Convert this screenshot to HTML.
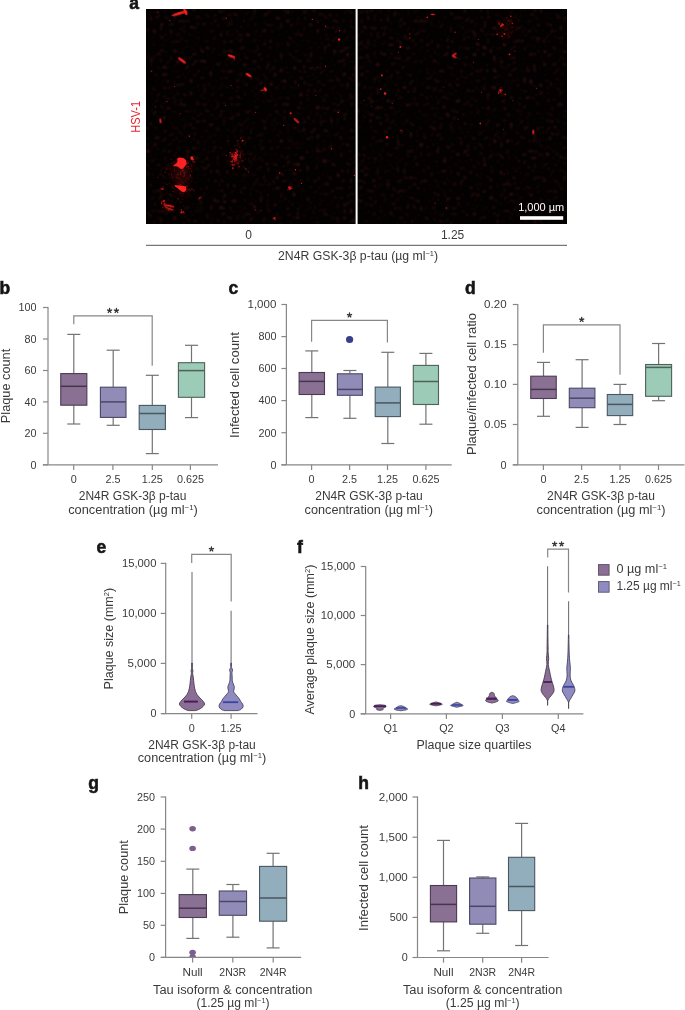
<!DOCTYPE html><html><head><meta charset="utf-8"><title>Figure</title><style>html,body{margin:0;padding:0;background:#fff;width:685px;height:1010px;overflow:hidden}svg{display:block;will-change:transform}text{font-family:"Liberation Sans",sans-serif}</style></head><body><svg width="685" height="1010" viewBox="0 0 685 1010" font-family='"Liberation Sans", sans-serif'>
<rect width="685" height="1010" fill="#ffffff"/>
<defs><filter id="bl0" x="-50%" y="-50%" width="200%" height="200%"><feGaussianBlur stdDeviation="0.6"/></filter><filter id="bl1" x="-50%" y="-50%" width="200%" height="200%"><feGaussianBlur stdDeviation="0.8"/></filter><filter id="bl2" x="-50%" y="-50%" width="200%" height="200%"><feGaussianBlur stdDeviation="1.6"/></filter><filter id="bl3" x="-50%" y="-50%" width="200%" height="200%"><feGaussianBlur stdDeviation="3"/></filter><clipPath id="imgclip"><rect x="146" y="9" width="421" height="215"/></clipPath><clipPath id="gclip"><rect x="150" y="780" width="160" height="177.2"/></clipPath></defs>
<rect x="146" y="9" width="421" height="215" fill="#030101"/>
<filter id="haze" x="146" y="9" width="421" height="215" filterUnits="userSpaceOnUse"><feTurbulence type="fractalNoise" baseFrequency="0.3" numOctaves="2" seed="5"/><feColorMatrix type="matrix" values="0 0 0 0 0.4  0 0 0 0 0.05  0 0 0 0 0.04  5 0 0 0 -3.0"/><feGaussianBlur stdDeviation="0.9"/></filter>
<rect x="146" y="9" width="209.6" height="215" fill="#000" filter="url(#haze)" opacity="0.08"/>
<rect x="357.6" y="9" width="209.4" height="215" fill="#000" filter="url(#haze)" opacity="0.3"/>
<g clip-path="url(#imgclip)">
<ellipse cx="181" cy="172" rx="10" ry="13.0" fill="#b01218" opacity="0.18" filter="url(#bl3)"/>
<ellipse cx="182" cy="188" rx="6" ry="7.8" fill="#b01218" opacity="0.15" filter="url(#bl3)"/>
<ellipse cx="236" cy="158" rx="6" ry="7.8" fill="#b01218" opacity="0.15" filter="url(#bl3)"/>
<ellipse cx="168" cy="206" rx="5" ry="6.5" fill="#b01218" opacity="0.12" filter="url(#bl3)"/>
<ellipse cx="506" cy="28" rx="8" ry="10.4" fill="#b01218" opacity="0.08" filter="url(#bl3)"/>
<rect x="176.6" y="165.0" width="1.6" height="1.6" fill="rgb(249,30,30)" opacity="0.37"/>
<rect x="183.1" y="161.4" width="1.6" height="1.6" fill="rgb(251,30,30)" opacity="0.38"/>
<rect x="179.6" y="161.8" width="1.0" height="1.0" fill="rgb(228,30,30)" opacity="0.33"/>
<rect x="173.3" y="161.5" width="1.3" height="1.3" fill="rgb(240,30,30)" opacity="0.26"/>
<rect x="187.2" y="162.2" width="1.6" height="1.6" fill="rgb(239,30,30)" opacity="0.41"/>
<rect x="186.4" y="164.0" width="1.0" height="1.0" fill="rgb(203,30,30)" opacity="0.26"/>
<rect x="175.9" y="159.4" width="1.0" height="1.0" fill="rgb(220,30,30)" opacity="0.36"/>
<rect x="175.8" y="162.8" width="1.0" height="1.0" fill="rgb(231,30,30)" opacity="0.25"/>
<rect x="178.4" y="164.4" width="1.0" height="1.0" fill="rgb(235,30,30)" opacity="0.50"/>
<rect x="180.6" y="160.1" width="1.0" height="1.0" fill="rgb(214,30,30)" opacity="0.38"/>
<rect x="187.7" y="166.4" width="1.3" height="1.3" fill="rgb(225,30,30)" opacity="0.28"/>
<rect x="173.9" y="170.1" width="1.0" height="1.0" fill="rgb(254,30,30)" opacity="0.42"/>
<rect x="183.7" y="172.0" width="1.6" height="1.6" fill="rgb(230,30,30)" opacity="0.34"/>
<rect x="180.3" y="164.4" width="1.6" height="1.6" fill="rgb(240,30,30)" opacity="0.30"/>
<rect x="181.3" y="165.2" width="1.3" height="1.3" fill="rgb(221,30,30)" opacity="0.25"/>
<rect x="181.6" y="161.5" width="1.0" height="1.0" fill="rgb(215,30,30)" opacity="0.43"/>
<rect x="188.1" y="166.1" width="1.0" height="1.0" fill="rgb(211,30,30)" opacity="0.42"/>
<rect x="179.0" y="164.3" width="1.3" height="1.3" fill="rgb(246,30,30)" opacity="0.44"/>
<rect x="180.3" y="161.9" width="1.0" height="1.0" fill="rgb(226,30,30)" opacity="0.50"/>
<rect x="180.2" y="174.1" width="1.0" height="1.0" fill="rgb(251,30,30)" opacity="0.40"/>
<rect x="182.5" y="167.4" width="1.6" height="1.6" fill="rgb(254,30,30)" opacity="0.40"/>
<rect x="191.2" y="170.6" width="1.0" height="1.0" fill="rgb(213,30,30)" opacity="0.36"/>
<rect x="182.0" y="160.0" width="1.0" height="1.0" fill="rgb(218,30,30)" opacity="0.35"/>
<rect x="186.0" y="166.3" width="1.3" height="1.3" fill="rgb(215,30,30)" opacity="0.25"/>
<rect x="178.5" y="166.7" width="1.6" height="1.6" fill="rgb(237,30,30)" opacity="0.37"/>
<rect x="184.1" y="166.5" width="1.0" height="1.0" fill="rgb(240,30,30)" opacity="0.29"/>
<rect x="182.8" y="160.7" width="1.6" height="1.6" fill="rgb(212,30,30)" opacity="0.29"/>
<rect x="184.0" y="162.5" width="1.6" height="1.6" fill="rgb(224,30,30)" opacity="0.47"/>
<rect x="182.6" y="164.1" width="1.3" height="1.3" fill="rgb(206,30,30)" opacity="0.26"/>
<rect x="182.0" y="169.7" width="1.6" height="1.6" fill="rgb(216,30,30)" opacity="0.36"/>
<rect x="176.7" y="163.8" width="1.0" height="1.0" fill="rgb(246,30,30)" opacity="0.49"/>
<rect x="182.2" y="168.6" width="1.0" height="1.0" fill="rgb(254,30,30)" opacity="0.40"/>
<rect x="179.8" y="172.3" width="1.0" height="1.0" fill="rgb(213,30,30)" opacity="0.44"/>
<rect x="181.0" y="167.8" width="1.3" height="1.3" fill="rgb(203,30,30)" opacity="0.26"/>
<rect x="178.0" y="167.3" width="1.0" height="1.0" fill="rgb(208,30,30)" opacity="0.27"/>
<rect x="190.2" y="156.4" width="1.6" height="1.6" fill="rgb(242,30,30)" opacity="0.43"/>
<rect x="179.6" y="162.4" width="1.3" height="1.3" fill="rgb(202,30,30)" opacity="0.48"/>
<rect x="186.8" y="160.2" width="1.6" height="1.6" fill="rgb(202,30,30)" opacity="0.26"/>
<rect x="182.8" y="164.2" width="1.0" height="1.0" fill="rgb(219,30,30)" opacity="0.33"/>
<rect x="186.0" y="165.8" width="1.6" height="1.6" fill="rgb(247,30,30)" opacity="0.26"/>
<rect x="182.8" y="186.9" width="1.6" height="1.6" fill="rgb(221,30,30)" opacity="0.30"/>
<rect x="181.4" y="188.7" width="1.0" height="1.0" fill="rgb(254,30,30)" opacity="0.32"/>
<rect x="186.4" y="185.5" width="1.3" height="1.3" fill="rgb(239,30,30)" opacity="0.37"/>
<rect x="178.2" y="186.5" width="1.0" height="1.0" fill="rgb(205,30,30)" opacity="0.25"/>
<rect x="191.2" y="188.2" width="1.6" height="1.6" fill="rgb(246,30,30)" opacity="0.30"/>
<rect x="181.5" y="185.4" width="1.0" height="1.0" fill="rgb(229,30,30)" opacity="0.41"/>
<rect x="178.2" y="188.1" width="1.3" height="1.3" fill="rgb(219,30,30)" opacity="0.36"/>
<rect x="193.0" y="189.6" width="1.6" height="1.6" fill="rgb(207,30,30)" opacity="0.34"/>
<rect x="180.5" y="185.6" width="1.0" height="1.0" fill="rgb(200,30,30)" opacity="0.31"/>
<rect x="181.8" y="186.7" width="1.3" height="1.3" fill="rgb(210,30,30)" opacity="0.39"/>
<rect x="180.7" y="185.8" width="1.6" height="1.6" fill="rgb(215,30,30)" opacity="0.30"/>
<rect x="183.0" y="192.8" width="1.0" height="1.0" fill="rgb(251,30,30)" opacity="0.41"/>
<rect x="185.9" y="186.5" width="1.0" height="1.0" fill="rgb(237,30,30)" opacity="0.43"/>
<rect x="186.1" y="191.2" width="1.0" height="1.0" fill="rgb(253,30,30)" opacity="0.43"/>
<rect x="180.6" y="181.4" width="1.0" height="1.0" fill="rgb(217,30,30)" opacity="0.41"/>
<rect x="179.9" y="189.2" width="1.3" height="1.3" fill="rgb(213,30,30)" opacity="0.41"/>
<rect x="179.7" y="186.0" width="1.6" height="1.6" fill="rgb(220,30,30)" opacity="0.39"/>
<rect x="181.5" y="188.8" width="1.6" height="1.6" fill="rgb(202,30,30)" opacity="0.29"/>
<rect x="189.1" y="189.7" width="1.6" height="1.6" fill="rgb(236,30,30)" opacity="0.30"/>
<rect x="183.2" y="187.9" width="1.0" height="1.0" fill="rgb(208,30,30)" opacity="0.32"/>
<rect x="190.4" y="189.4" width="1.0" height="1.0" fill="rgb(215,30,30)" opacity="0.40"/>
<rect x="185.0" y="188.4" width="1.6" height="1.6" fill="rgb(206,30,30)" opacity="0.37"/>
<rect x="180.6" y="186.3" width="1.0" height="1.0" fill="rgb(204,30,30)" opacity="0.38"/>
<rect x="184.4" y="186.4" width="1.3" height="1.3" fill="rgb(245,30,30)" opacity="0.23"/>
<rect x="181.9" y="188.3" width="1.3" height="1.3" fill="rgb(214,30,30)" opacity="0.29"/>
<rect x="161.2" y="169.6" width="1.0" height="1.0" fill="rgb(232,30,30)" opacity="0.24"/>
<rect x="168.9" y="193.4" width="1.6" height="1.6" fill="rgb(214,30,30)" opacity="0.16"/>
<rect x="173.3" y="187.9" width="1.0" height="1.0" fill="rgb(212,30,30)" opacity="0.24"/>
<rect x="172.6" y="190.7" width="1.3" height="1.3" fill="rgb(232,30,30)" opacity="0.27"/>
<rect x="168.7" y="182.6" width="1.6" height="1.6" fill="rgb(213,30,30)" opacity="0.16"/>
<rect x="183.7" y="174.7" width="1.0" height="1.0" fill="rgb(215,30,30)" opacity="0.28"/>
<rect x="189.8" y="175.5" width="1.3" height="1.3" fill="rgb(250,30,30)" opacity="0.29"/>
<rect x="193.3" y="163.2" width="1.0" height="1.0" fill="rgb(222,30,30)" opacity="0.23"/>
<rect x="170.6" y="184.4" width="1.0" height="1.0" fill="rgb(249,30,30)" opacity="0.19"/>
<rect x="183.2" y="205.6" width="1.0" height="1.0" fill="rgb(227,30,30)" opacity="0.27"/>
<rect x="168.1" y="173.6" width="1.6" height="1.6" fill="rgb(208,30,30)" opacity="0.22"/>
<rect x="187.8" y="168.1" width="1.3" height="1.3" fill="rgb(243,30,30)" opacity="0.25"/>
<rect x="169.2" y="167.8" width="1.6" height="1.6" fill="rgb(248,30,30)" opacity="0.18"/>
<rect x="165.9" y="168.5" width="1.6" height="1.6" fill="rgb(235,30,30)" opacity="0.25"/>
<rect x="162.6" y="175.3" width="1.3" height="1.3" fill="rgb(216,30,30)" opacity="0.20"/>
<rect x="195.5" y="170.1" width="1.0" height="1.0" fill="rgb(239,30,30)" opacity="0.18"/>
<rect x="189.6" y="174.6" width="1.3" height="1.3" fill="rgb(236,30,30)" opacity="0.22"/>
<rect x="170.8" y="174.3" width="1.6" height="1.6" fill="rgb(238,30,30)" opacity="0.21"/>
<rect x="189.5" y="174.8" width="1.6" height="1.6" fill="rgb(225,30,30)" opacity="0.23"/>
<rect x="182.6" y="182.3" width="1.6" height="1.6" fill="rgb(210,30,30)" opacity="0.16"/>
<rect x="162.6" y="186.0" width="1.3" height="1.3" fill="rgb(251,30,30)" opacity="0.29"/>
<rect x="180.2" y="194.3" width="1.3" height="1.3" fill="rgb(221,30,30)" opacity="0.22"/>
<rect x="176.2" y="177.0" width="1.3" height="1.3" fill="rgb(226,30,30)" opacity="0.24"/>
<rect x="189.6" y="195.7" width="1.0" height="1.0" fill="rgb(201,30,30)" opacity="0.16"/>
<rect x="181.7" y="199.1" width="1.0" height="1.0" fill="rgb(220,30,30)" opacity="0.26"/>
<rect x="177.3" y="173.5" width="1.6" height="1.6" fill="rgb(246,30,30)" opacity="0.24"/>
<rect x="170.9" y="162.4" width="1.3" height="1.3" fill="rgb(244,30,30)" opacity="0.23"/>
<rect x="191.2" y="180.9" width="1.0" height="1.0" fill="rgb(252,30,30)" opacity="0.23"/>
<rect x="164.5" y="171.4" width="1.6" height="1.6" fill="rgb(234,30,30)" opacity="0.25"/>
<rect x="182.1" y="195.1" width="1.0" height="1.0" fill="rgb(237,30,30)" opacity="0.28"/>
<rect x="189.7" y="168.0" width="1.3" height="1.3" fill="rgb(222,30,30)" opacity="0.29"/>
<rect x="166.6" y="160.2" width="1.0" height="1.0" fill="rgb(212,30,30)" opacity="0.18"/>
<rect x="183.3" y="173.1" width="1.0" height="1.0" fill="rgb(215,30,30)" opacity="0.17"/>
<rect x="179.8" y="184.3" width="1.6" height="1.6" fill="rgb(253,30,30)" opacity="0.29"/>
<rect x="181.0" y="171.0" width="1.0" height="1.0" fill="rgb(225,30,30)" opacity="0.24"/>
<rect x="188.6" y="188.3" width="1.3" height="1.3" fill="rgb(222,30,30)" opacity="0.29"/>
<rect x="187.1" y="189.0" width="1.6" height="1.6" fill="rgb(248,30,30)" opacity="0.20"/>
<rect x="187.2" y="156.1" width="1.0" height="1.0" fill="rgb(230,30,30)" opacity="0.17"/>
<rect x="180.8" y="158.8" width="1.0" height="1.0" fill="rgb(236,30,30)" opacity="0.22"/>
<rect x="182.2" y="186.7" width="1.3" height="1.3" fill="rgb(253,30,30)" opacity="0.17"/>
<rect x="183.2" y="175.2" width="1.6" height="1.6" fill="rgb(203,30,30)" opacity="0.17"/>
<rect x="166.8" y="183.6" width="1.3" height="1.3" fill="rgb(220,30,30)" opacity="0.21"/>
<rect x="171.6" y="176.6" width="1.6" height="1.6" fill="rgb(238,30,30)" opacity="0.21"/>
<rect x="175.3" y="152.3" width="1.3" height="1.3" fill="rgb(211,30,30)" opacity="0.21"/>
<rect x="179.5" y="163.8" width="1.0" height="1.0" fill="rgb(212,30,30)" opacity="0.24"/>
<rect x="178.6" y="177.8" width="1.6" height="1.6" fill="rgb(205,30,30)" opacity="0.27"/>
<rect x="192.4" y="156.4" width="1.0" height="1.0" fill="rgb(225,30,30)" opacity="0.24"/>
<rect x="157.2" y="176.9" width="1.3" height="1.3" fill="rgb(251,30,30)" opacity="0.26"/>
<rect x="191.2" y="165.8" width="1.3" height="1.3" fill="rgb(249,30,30)" opacity="0.17"/>
<rect x="184.8" y="187.3" width="1.3" height="1.3" fill="rgb(234,30,30)" opacity="0.25"/>
<rect x="180.8" y="163.8" width="1.3" height="1.3" fill="rgb(246,30,30)" opacity="0.18"/>
<rect x="178.8" y="184.1" width="1.6" height="1.6" fill="rgb(222,30,30)" opacity="0.30"/>
<rect x="186.1" y="181.4" width="1.0" height="1.0" fill="rgb(242,30,30)" opacity="0.19"/>
<rect x="174.4" y="162.7" width="1.6" height="1.6" fill="rgb(234,30,30)" opacity="0.16"/>
<rect x="191.5" y="178.0" width="1.3" height="1.3" fill="rgb(244,30,30)" opacity="0.17"/>
<rect x="181.7" y="177.6" width="1.0" height="1.0" fill="rgb(239,30,30)" opacity="0.17"/>
<rect x="179.7" y="192.2" width="1.6" height="1.6" fill="rgb(203,30,30)" opacity="0.26"/>
<rect x="177.4" y="182.5" width="1.3" height="1.3" fill="rgb(216,30,30)" opacity="0.19"/>
<rect x="170.9" y="172.8" width="1.0" height="1.0" fill="rgb(233,30,30)" opacity="0.24"/>
<rect x="170.6" y="158.6" width="1.6" height="1.6" fill="rgb(204,30,30)" opacity="0.23"/>
<rect x="180.1" y="173.8" width="1.0" height="1.0" fill="rgb(210,30,30)" opacity="0.21"/>
<rect x="186.2" y="164.2" width="1.3" height="1.3" fill="rgb(238,30,30)" opacity="0.16"/>
<rect x="171.4" y="186.2" width="1.6" height="1.6" fill="rgb(238,30,30)" opacity="0.20"/>
<rect x="177.4" y="197.9" width="1.6" height="1.6" fill="rgb(235,30,30)" opacity="0.29"/>
<rect x="178.6" y="166.5" width="1.6" height="1.6" fill="rgb(200,30,30)" opacity="0.27"/>
<rect x="184.5" y="180.2" width="1.0" height="1.0" fill="rgb(248,30,30)" opacity="0.25"/>
<rect x="190.6" y="164.0" width="1.6" height="1.6" fill="rgb(203,30,30)" opacity="0.24"/>
<rect x="182.9" y="176.1" width="1.3" height="1.3" fill="rgb(214,30,30)" opacity="0.21"/>
<rect x="179.9" y="201.5" width="1.6" height="1.6" fill="rgb(202,30,30)" opacity="0.23"/>
<rect x="183.8" y="173.8" width="1.6" height="1.6" fill="rgb(252,30,30)" opacity="0.19"/>
<rect x="238.1" y="162.6" width="1.0" height="1.0" fill="rgb(229,30,30)" opacity="0.39"/>
<rect x="233.9" y="160.3" width="1.6" height="1.6" fill="rgb(223,30,30)" opacity="0.51"/>
<rect x="231.5" y="161.4" width="1.3" height="1.3" fill="rgb(240,30,30)" opacity="0.55"/>
<rect x="231.7" y="164.2" width="1.3" height="1.3" fill="rgb(252,30,30)" opacity="0.70"/>
<rect x="234.8" y="154.3" width="1.3" height="1.3" fill="rgb(207,30,30)" opacity="0.53"/>
<rect x="235.9" y="151.2" width="1.6" height="1.6" fill="rgb(222,30,30)" opacity="0.45"/>
<rect x="233.5" y="152.1" width="1.3" height="1.3" fill="rgb(237,30,30)" opacity="0.42"/>
<rect x="235.0" y="154.8" width="1.6" height="1.6" fill="rgb(215,30,30)" opacity="0.53"/>
<rect x="240.3" y="152.8" width="1.0" height="1.0" fill="rgb(202,30,30)" opacity="0.57"/>
<rect x="234.6" y="163.2" width="1.0" height="1.0" fill="rgb(239,30,30)" opacity="0.36"/>
<rect x="233.9" y="157.5" width="1.0" height="1.0" fill="rgb(205,30,30)" opacity="0.67"/>
<rect x="231.0" y="155.8" width="1.3" height="1.3" fill="rgb(223,30,30)" opacity="0.52"/>
<rect x="235.7" y="162.4" width="1.0" height="1.0" fill="rgb(247,30,30)" opacity="0.40"/>
<rect x="236.1" y="152.8" width="1.0" height="1.0" fill="rgb(252,30,30)" opacity="0.57"/>
<rect x="230.3" y="160.8" width="1.3" height="1.3" fill="rgb(224,30,30)" opacity="0.63"/>
<rect x="238.3" y="165.8" width="1.6" height="1.6" fill="rgb(238,30,30)" opacity="0.46"/>
<rect x="235.3" y="148.7" width="1.3" height="1.3" fill="rgb(211,30,30)" opacity="0.50"/>
<rect x="232.1" y="155.3" width="1.0" height="1.0" fill="rgb(220,30,30)" opacity="0.38"/>
<rect x="231.5" y="160.7" width="1.3" height="1.3" fill="rgb(252,30,30)" opacity="0.59"/>
<rect x="235.2" y="157.4" width="1.6" height="1.6" fill="rgb(219,30,30)" opacity="0.42"/>
<rect x="231.3" y="153.3" width="1.6" height="1.6" fill="rgb(231,30,30)" opacity="0.60"/>
<rect x="232.1" y="167.1" width="1.6" height="1.6" fill="rgb(214,30,30)" opacity="0.48"/>
<rect x="232.0" y="167.6" width="1.6" height="1.6" fill="rgb(220,30,30)" opacity="0.60"/>
<rect x="229.6" y="152.0" width="1.3" height="1.3" fill="rgb(243,30,30)" opacity="0.67"/>
<rect x="225.8" y="155.1" width="1.3" height="1.3" fill="rgb(229,30,30)" opacity="0.46"/>
<rect x="239.8" y="156.4" width="1.3" height="1.3" fill="rgb(233,30,30)" opacity="0.44"/>
<rect x="235.3" y="157.0" width="1.3" height="1.3" fill="rgb(243,30,30)" opacity="0.49"/>
<rect x="236.4" y="150.1" width="1.6" height="1.6" fill="rgb(223,30,30)" opacity="0.63"/>
<rect x="237.3" y="163.5" width="1.3" height="1.3" fill="rgb(211,30,30)" opacity="0.41"/>
<rect x="236.8" y="155.2" width="1.0" height="1.0" fill="rgb(201,30,30)" opacity="0.43"/>
<rect x="232.4" y="156.0" width="1.3" height="1.3" fill="rgb(201,30,30)" opacity="0.78"/>
<rect x="235.5" y="158.4" width="1.3" height="1.3" fill="rgb(250,30,30)" opacity="0.73"/>
<rect x="235.9" y="159.2" width="1.6" height="1.6" fill="rgb(220,30,30)" opacity="0.52"/>
<rect x="233.7" y="156.0" width="1.0" height="1.0" fill="rgb(252,30,30)" opacity="0.78"/>
<rect x="233.6" y="153.8" width="1.3" height="1.3" fill="rgb(233,30,30)" opacity="0.64"/>
<rect x="233.1" y="158.6" width="1.3" height="1.3" fill="rgb(221,30,30)" opacity="0.79"/>
<rect x="231.7" y="157.4" width="1.0" height="1.0" fill="rgb(204,30,30)" opacity="0.81"/>
<rect x="231.9" y="159.8" width="1.0" height="1.0" fill="rgb(242,30,30)" opacity="0.64"/>
<rect x="234.8" y="152.0" width="1.6" height="1.6" fill="rgb(229,30,30)" opacity="0.93"/>
<rect x="235.2" y="157.4" width="1.3" height="1.3" fill="rgb(200,30,30)" opacity="0.86"/>
<rect x="236.6" y="154.1" width="1.6" height="1.6" fill="rgb(215,30,30)" opacity="0.83"/>
<rect x="233.4" y="158.2" width="1.6" height="1.6" fill="rgb(213,30,30)" opacity="0.66"/>
<rect x="233.1" y="164.1" width="1.6" height="1.6" fill="rgb(203,30,30)" opacity="0.70"/>
<rect x="235.4" y="159.7" width="1.0" height="1.0" fill="rgb(249,30,30)" opacity="0.91"/>
<rect x="234.0" y="156.5" width="1.0" height="1.0" fill="rgb(230,30,30)" opacity="0.91"/>
<rect x="233.7" y="158.7" width="1.0" height="1.0" fill="rgb(222,30,30)" opacity="0.58"/>
<rect x="232.8" y="155.1" width="1.0" height="1.0" fill="rgb(232,30,30)" opacity="0.58"/>
<rect x="235.0" y="155.3" width="1.6" height="1.6" fill="rgb(248,30,30)" opacity="0.92"/>
<rect x="231.7" y="155.5" width="1.3" height="1.3" fill="rgb(230,30,30)" opacity="0.88"/>
<rect x="236.2" y="153.0" width="1.0" height="1.0" fill="rgb(221,30,30)" opacity="0.79"/>
<rect x="233.1" y="157.2" width="1.0" height="1.0" fill="rgb(203,30,30)" opacity="0.58"/>
<rect x="234.4" y="154.4" width="1.3" height="1.3" fill="rgb(233,30,30)" opacity="0.85"/>
<rect x="234.1" y="156.1" width="1.3" height="1.3" fill="rgb(215,30,30)" opacity="0.90"/>
<rect x="235.2" y="155.3" width="1.6" height="1.6" fill="rgb(215,30,30)" opacity="0.81"/>
<rect x="235.0" y="154.9" width="1.3" height="1.3" fill="rgb(249,30,30)" opacity="0.63"/>
<rect x="236.0" y="154.2" width="1.6" height="1.6" fill="rgb(208,30,30)" opacity="0.78"/>
<rect x="233.8" y="160.4" width="1.0" height="1.0" fill="rgb(209,30,30)" opacity="0.75"/>
<rect x="236.4" y="157.0" width="1.0" height="1.0" fill="rgb(254,30,30)" opacity="0.55"/>
<rect x="234.9" y="158.1" width="1.3" height="1.3" fill="rgb(245,30,30)" opacity="0.73"/>
<rect x="233.8" y="155.9" width="1.6" height="1.6" fill="rgb(247,30,30)" opacity="0.75"/>
<rect x="237.1" y="162.0" width="1.6" height="1.6" fill="rgb(226,30,30)" opacity="0.24"/>
<rect x="247.9" y="158.1" width="1.3" height="1.3" fill="rgb(213,30,30)" opacity="0.21"/>
<rect x="237.1" y="151.4" width="1.3" height="1.3" fill="rgb(253,30,30)" opacity="0.39"/>
<rect x="239.3" y="154.2" width="1.6" height="1.6" fill="rgb(219,30,30)" opacity="0.40"/>
<rect x="239.0" y="146.5" width="1.6" height="1.6" fill="rgb(243,30,30)" opacity="0.23"/>
<rect x="235.6" y="156.1" width="1.6" height="1.6" fill="rgb(250,30,30)" opacity="0.37"/>
<rect x="230.6" y="156.0" width="1.0" height="1.0" fill="rgb(245,30,30)" opacity="0.34"/>
<rect x="239.3" y="154.8" width="1.6" height="1.6" fill="rgb(249,30,30)" opacity="0.20"/>
<rect x="241.9" y="160.0" width="1.6" height="1.6" fill="rgb(218,30,30)" opacity="0.33"/>
<rect x="240.0" y="137.1" width="1.6" height="1.6" fill="rgb(248,30,30)" opacity="0.28"/>
<rect x="242.8" y="154.0" width="1.3" height="1.3" fill="rgb(224,30,30)" opacity="0.35"/>
<rect x="238.5" y="156.5" width="1.3" height="1.3" fill="rgb(230,30,30)" opacity="0.34"/>
<rect x="235.4" y="153.9" width="1.0" height="1.0" fill="rgb(206,30,30)" opacity="0.23"/>
<rect x="244.8" y="158.2" width="1.3" height="1.3" fill="rgb(211,30,30)" opacity="0.24"/>
<rect x="245.4" y="153.5" width="1.0" height="1.0" fill="rgb(245,30,30)" opacity="0.22"/>
<rect x="254.5" y="155.6" width="1.0" height="1.0" fill="rgb(227,30,30)" opacity="0.28"/>
<rect x="234.9" y="161.4" width="1.0" height="1.0" fill="rgb(232,30,30)" opacity="0.23"/>
<rect x="241.0" y="140.9" width="1.3" height="1.3" fill="rgb(224,30,30)" opacity="0.30"/>
<rect x="234.2" y="145.2" width="1.0" height="1.0" fill="rgb(239,30,30)" opacity="0.34"/>
<rect x="236.3" y="145.1" width="1.0" height="1.0" fill="rgb(201,30,30)" opacity="0.25"/>
<rect x="165.2" y="208.9" width="1.0" height="1.0" fill="rgb(206,30,30)" opacity="0.39"/>
<rect x="161.8" y="206.8" width="1.6" height="1.6" fill="rgb(252,30,30)" opacity="0.28"/>
<rect x="171.3" y="209.3" width="1.3" height="1.3" fill="rgb(219,30,30)" opacity="0.39"/>
<rect x="164.8" y="205.8" width="1.6" height="1.6" fill="rgb(236,30,30)" opacity="0.43"/>
<rect x="173.5" y="207.0" width="1.0" height="1.0" fill="rgb(212,30,30)" opacity="0.39"/>
<rect x="166.4" y="206.2" width="1.3" height="1.3" fill="rgb(205,30,30)" opacity="0.28"/>
<rect x="163.2" y="205.9" width="1.3" height="1.3" fill="rgb(221,30,30)" opacity="0.27"/>
<rect x="167.3" y="210.3" width="1.0" height="1.0" fill="rgb(228,30,30)" opacity="0.49"/>
<rect x="168.3" y="209.1" width="1.6" height="1.6" fill="rgb(234,30,30)" opacity="0.39"/>
<rect x="169.8" y="206.5" width="1.3" height="1.3" fill="rgb(247,30,30)" opacity="0.50"/>
<rect x="191.5" y="157.6" width="1.6" height="1.6" fill="rgb(252,30,30)" opacity="0.40"/>
<rect x="192.7" y="157.5" width="1.0" height="1.0" fill="rgb(236,30,30)" opacity="0.55"/>
<rect x="192.6" y="159.4" width="1.3" height="1.3" fill="rgb(204,30,30)" opacity="0.58"/>
<rect x="193.5" y="161.2" width="1.6" height="1.6" fill="rgb(242,30,30)" opacity="0.46"/>
<rect x="193.5" y="155.9" width="1.0" height="1.0" fill="rgb(239,30,30)" opacity="0.64"/>
<rect x="192.7" y="159.0" width="1.3" height="1.3" fill="rgb(202,30,30)" opacity="0.46"/>
<rect x="192.9" y="158.8" width="1.3" height="1.3" fill="rgb(221,30,30)" opacity="0.61"/>
<rect x="192.1" y="160.8" width="1.0" height="1.0" fill="rgb(203,30,30)" opacity="0.66"/>
<rect x="162.7" y="200.3" width="1.6" height="1.6" fill="rgb(225,30,30)" opacity="0.78"/>
<rect x="163.7" y="202.6" width="1.6" height="1.6" fill="rgb(239,30,30)" opacity="0.77"/>
<rect x="163.1" y="200.3" width="1.3" height="1.3" fill="rgb(231,30,30)" opacity="0.76"/>
<rect x="164.0" y="200.3" width="1.0" height="1.0" fill="rgb(226,30,30)" opacity="0.73"/>
<rect x="161.0" y="201.1" width="1.6" height="1.6" fill="rgb(233,30,30)" opacity="0.53"/>
<rect x="161.0" y="202.9" width="1.3" height="1.3" fill="rgb(220,30,30)" opacity="0.76"/>
<rect x="180.7" y="209.3" width="1.3" height="1.3" fill="rgb(246,30,30)" opacity="0.55"/>
<rect x="181.0" y="210.5" width="1.0" height="1.0" fill="rgb(237,30,30)" opacity="0.75"/>
<rect x="181.8" y="212.2" width="1.0" height="1.0" fill="rgb(232,30,30)" opacity="0.75"/>
<rect x="180.5" y="211.5" width="1.6" height="1.6" fill="rgb(215,30,30)" opacity="0.62"/>
<rect x="180.4" y="211.8" width="1.6" height="1.6" fill="rgb(204,30,30)" opacity="0.80"/>
<rect x="182.4" y="211.1" width="1.6" height="1.6" fill="rgb(255,30,30)" opacity="0.62"/>
<rect x="161.6" y="187.5" width="1.0" height="1.0" fill="rgb(247,30,30)" opacity="0.50"/>
<rect x="161.8" y="187.9" width="1.6" height="1.6" fill="rgb(250,30,30)" opacity="0.40"/>
<rect x="160.4" y="187.7" width="1.3" height="1.3" fill="rgb(218,30,30)" opacity="0.44"/>
<rect x="162.0" y="188.3" width="1.6" height="1.6" fill="rgb(228,30,30)" opacity="0.66"/>
<rect x="160.6" y="188.8" width="1.3" height="1.3" fill="rgb(237,30,30)" opacity="0.43"/>
<rect x="200.3" y="197.7" width="1.0" height="1.0" fill="rgb(219,30,30)" opacity="0.46"/>
<rect x="200.6" y="196.5" width="1.0" height="1.0" fill="rgb(230,30,30)" opacity="0.66"/>
<rect x="198.1" y="199.1" width="1.3" height="1.3" fill="rgb(203,30,30)" opacity="0.42"/>
<rect x="198.7" y="197.3" width="1.6" height="1.6" fill="rgb(240,30,30)" opacity="0.66"/>
<rect x="289.6" y="189.2" width="1.0" height="1.0" fill="rgb(212,30,30)" opacity="0.88"/>
<rect x="288.4" y="186.5" width="1.3" height="1.3" fill="rgb(252,30,30)" opacity="0.59"/>
<rect x="290.5" y="185.9" width="1.3" height="1.3" fill="rgb(208,30,30)" opacity="0.60"/>
<rect x="288.4" y="187.8" width="1.6" height="1.6" fill="rgb(255,30,30)" opacity="0.59"/>
<rect x="288.7" y="186.4" width="1.6" height="1.6" fill="rgb(246,30,30)" opacity="0.56"/>
<rect x="288.8" y="188.4" width="1.0" height="1.0" fill="rgb(251,30,30)" opacity="0.75"/>
<rect x="288.3" y="186.9" width="1.0" height="1.0" fill="rgb(219,30,30)" opacity="0.85"/>
<rect x="288.6" y="186.5" width="1.3" height="1.3" fill="rgb(240,30,30)" opacity="0.75"/>
<rect x="290.5" y="187.3" width="1.0" height="1.0" fill="rgb(233,30,30)" opacity="0.48"/>
<rect x="290.8" y="187.5" width="1.6" height="1.6" fill="rgb(234,30,30)" opacity="0.56"/>
<rect x="290.0" y="188.0" width="1.0" height="1.0" fill="rgb(248,30,30)" opacity="0.54"/>
<rect x="288.8" y="189.0" width="1.0" height="1.0" fill="rgb(211,30,30)" opacity="0.81"/>
<rect x="289.4" y="187.4" width="1.6" height="1.6" fill="rgb(229,30,30)" opacity="0.86"/>
<rect x="286.9" y="189.4" width="1.0" height="1.0" fill="rgb(231,30,30)" opacity="0.48"/>
<rect x="272.5" y="218.0" width="1.3" height="1.3" fill="rgb(223,30,30)" opacity="0.59"/>
<rect x="273.8" y="217.3" width="1.6" height="1.6" fill="rgb(232,30,30)" opacity="0.82"/>
<rect x="273.2" y="217.4" width="1.0" height="1.0" fill="rgb(234,30,30)" opacity="0.53"/>
<rect x="274.3" y="219.0" width="1.3" height="1.3" fill="rgb(242,30,30)" opacity="0.65"/>
<rect x="273.9" y="216.8" width="1.6" height="1.6" fill="rgb(215,30,30)" opacity="0.57"/>
<rect x="501.4" y="25.3" width="1.0" height="1.0" fill="rgb(231,30,30)" opacity="0.47"/>
<rect x="498.9" y="22.2" width="1.0" height="1.0" fill="rgb(236,30,30)" opacity="0.54"/>
<rect x="500.0" y="25.2" width="1.3" height="1.3" fill="rgb(238,30,30)" opacity="0.56"/>
<rect x="498.4" y="23.4" width="1.0" height="1.0" fill="rgb(254,30,30)" opacity="0.67"/>
<rect x="501.8" y="24.1" width="1.6" height="1.6" fill="rgb(240,30,30)" opacity="0.58"/>
<rect x="501.1" y="24.3" width="1.6" height="1.6" fill="rgb(219,30,30)" opacity="0.53"/>
<rect x="500.1" y="25.3" width="1.6" height="1.6" fill="rgb(233,30,30)" opacity="0.67"/>
<rect x="498.7" y="23.5" width="1.3" height="1.3" fill="rgb(232,30,30)" opacity="0.44"/>
<rect x="501.0" y="25.1" width="1.3" height="1.3" fill="rgb(242,30,30)" opacity="0.69"/>
<rect x="502.5" y="24.0" width="1.6" height="1.6" fill="rgb(223,30,30)" opacity="0.64"/>
<rect x="501.5" y="23.4" width="1.6" height="1.6" fill="rgb(231,30,30)" opacity="0.66"/>
<rect x="501.9" y="23.4" width="1.0" height="1.0" fill="rgb(229,30,30)" opacity="0.57"/>
<rect x="512.1" y="30.2" width="1.3" height="1.3" fill="rgb(233,30,30)" opacity="0.13"/>
<rect x="501.7" y="26.5" width="1.6" height="1.6" fill="rgb(204,30,30)" opacity="0.22"/>
<rect x="515.5" y="29.6" width="1.3" height="1.3" fill="rgb(246,30,30)" opacity="0.18"/>
<rect x="506.9" y="41.4" width="1.0" height="1.0" fill="rgb(215,30,30)" opacity="0.16"/>
<rect x="511.3" y="26.5" width="1.6" height="1.6" fill="rgb(221,30,30)" opacity="0.21"/>
<rect x="507.6" y="35.2" width="1.0" height="1.0" fill="rgb(237,30,30)" opacity="0.18"/>
<rect x="506.5" y="18.4" width="1.0" height="1.0" fill="rgb(255,30,30)" opacity="0.21"/>
<rect x="502.1" y="32.1" width="1.3" height="1.3" fill="rgb(253,30,30)" opacity="0.13"/>
<rect x="507.7" y="23.9" width="1.6" height="1.6" fill="rgb(222,30,30)" opacity="0.14"/>
<rect x="508.9" y="20.3" width="1.3" height="1.3" fill="rgb(225,30,30)" opacity="0.13"/>
<rect x="507.3" y="19.8" width="1.6" height="1.6" fill="rgb(231,30,30)" opacity="0.22"/>
<rect x="509.4" y="39.5" width="1.0" height="1.0" fill="rgb(234,30,30)" opacity="0.15"/>
<rect x="510.8" y="32.1" width="1.6" height="1.6" fill="rgb(217,30,30)" opacity="0.18"/>
<rect x="508.6" y="36.4" width="1.6" height="1.6" fill="rgb(225,30,30)" opacity="0.17"/>
<rect x="506.1" y="23.1" width="1.6" height="1.6" fill="rgb(223,30,30)" opacity="0.12"/>
<rect x="511.4" y="26.7" width="1.0" height="1.0" fill="rgb(249,30,30)" opacity="0.14"/>
<rect x="511.4" y="31.0" width="1.3" height="1.3" fill="rgb(224,30,30)" opacity="0.16"/>
<rect x="503.1" y="43.8" width="1.3" height="1.3" fill="rgb(233,30,30)" opacity="0.18"/>
<rect x="504.1" y="34.1" width="1.6" height="1.6" fill="rgb(202,30,30)" opacity="0.13"/>
<rect x="506.0" y="28.7" width="1.3" height="1.3" fill="rgb(219,30,30)" opacity="0.16"/>
<rect x="504.4" y="28.7" width="1.3" height="1.3" fill="rgb(245,30,30)" opacity="0.17"/>
<rect x="505.9" y="16.8" width="1.3" height="1.3" fill="rgb(209,30,30)" opacity="0.21"/>
<rect x="501.7" y="27.9" width="1.3" height="1.3" fill="rgb(208,30,30)" opacity="0.15"/>
<rect x="507.6" y="37.4" width="1.0" height="1.0" fill="rgb(222,30,30)" opacity="0.18"/>
<rect x="508.1" y="30.5" width="1.0" height="1.0" fill="rgb(240,30,30)" opacity="0.16"/>
<rect x="500.4" y="87.3" width="1.0" height="1.0" fill="rgb(219,30,30)" opacity="0.75"/>
<rect x="499.9" y="89.9" width="1.0" height="1.0" fill="rgb(244,30,30)" opacity="0.61"/>
<rect x="501.5" y="89.6" width="1.3" height="1.3" fill="rgb(215,30,30)" opacity="0.80"/>
<rect x="500.3" y="91.0" width="1.3" height="1.3" fill="rgb(225,30,30)" opacity="0.67"/>
<rect x="498.4" y="91.0" width="1.0" height="1.0" fill="rgb(231,30,30)" opacity="0.77"/>
<rect x="499.9" y="91.3" width="1.3" height="1.3" fill="rgb(230,30,30)" opacity="0.80"/>
<rect x="498.7" y="89.5" width="1.3" height="1.3" fill="rgb(205,30,30)" opacity="0.78"/>
<rect x="499.7" y="89.0" width="1.6" height="1.6" fill="rgb(216,30,30)" opacity="0.77"/>
<rect x="498.2" y="92.8" width="1.0" height="1.0" fill="rgb(225,30,30)" opacity="0.50"/>
<rect x="500.0" y="89.8" width="1.6" height="1.6" fill="rgb(224,30,30)" opacity="0.67"/>
<rect x="498.6" y="92.1" width="1.0" height="1.0" fill="rgb(216,30,30)" opacity="0.48"/>
<rect x="497.8" y="92.4" width="1.6" height="1.6" fill="rgb(236,30,30)" opacity="0.58"/>
<ellipse cx="179.25" cy="13.45" rx="8.02" ry="1.36" transform="rotate(-16.1 179.25 13.45)" fill="#ff2424" opacity="0.95" filter="url(#bl0)"/>
<ellipse cx="185.50" cy="11.75" rx="3.59" ry="1.55" transform="rotate(66.0 185.50 11.75)" fill="#ff2424" opacity="0.95" filter="url(#bl0)"/>
<ellipse cx="182.15" cy="60.40" rx="4.86" ry="1.24" transform="rotate(37.3 182.15 60.40)" fill="#ff2424" opacity="0.95" filter="url(#bl0)"/>
<ellipse cx="231.35" cy="56.25" rx="3.81" ry="1.36" transform="rotate(19.7 231.35 56.25)" fill="#ff2424" opacity="0.95" filter="url(#bl0)"/>
<ellipse cx="234.25" cy="58.75" rx="1.81" ry="0.74" transform="rotate(78.7 234.25 58.75)" fill="#ff2424" opacity="0.5" filter="url(#bl0)"/>
<ellipse cx="248.50" cy="75.05" rx="3.26" ry="1.24" transform="rotate(32.0 248.50 75.05)" fill="#ff2424" opacity="0.95" filter="url(#bl0)"/>
<ellipse cx="160.55" cy="120.90" rx="2.64" ry="0.99" transform="rotate(82.5 160.55 120.90)" fill="#ff2424" opacity="0.9" filter="url(#bl0)"/>
<ellipse cx="265.20" cy="89.25" rx="2.29" ry="1.49" transform="rotate(60.3 265.20 89.25)" fill="#ff2424" opacity="0.95" filter="url(#bl0)"/>
<ellipse cx="262.25" cy="90.15" rx="1.80" ry="0.74" transform="rotate(-6.8 262.25 90.15)" fill="#ff2424" opacity="0.6" filter="url(#bl0)"/>
<ellipse cx="296.50" cy="120.70" rx="3.57" ry="1.12" transform="rotate(43.5 296.50 120.70)" fill="#ff2424" opacity="0.8" filter="url(#bl0)"/>
<ellipse cx="454.25" cy="54.40" rx="2.84" ry="0.99" transform="rotate(-34.4 454.25 54.40)" fill="#ff2424" opacity="0.85" filter="url(#bl0)"/>
<ellipse cx="454.25" cy="56.75" rx="2.67" ry="0.99" transform="rotate(25.9 454.25 56.75)" fill="#ff2424" opacity="0.85" filter="url(#bl0)"/>
<ellipse cx="533.30" cy="132.00" rx="2.48" ry="0.93" transform="rotate(90.0 533.30 132.00)" fill="#ff2424" opacity="0.9" filter="url(#bl0)"/>
<ellipse cx="432.75" cy="14.60" rx="2.29" ry="0.74" transform="rotate(0.0 432.75 14.60)" fill="#ff2424" opacity="0.8" filter="url(#bl0)"/>
<ellipse cx="168.80" cy="205.65" rx="5.50" ry="0.87" transform="rotate(10.0 168.80 205.65)" fill="#ff2424" opacity="0.9" filter="url(#bl0)"/>
<ellipse cx="169.25" cy="208.70" rx="4.70" ry="0.74" transform="rotate(18.2 169.25 208.70)" fill="#ff2424" opacity="0.8" filter="url(#bl0)"/>
<path d="M177.1,158.8 L178.9,157.5 L183.3,158 L185.9,160.1 L186.8,163.6 L185,166.3 L183.3,168 L181.1,169.3 L178.9,167.1 L176.3,166.3 L173.6,166.3 L173.2,165.4 L176.3,163.6 L177.6,161 Z" fill="#ff2323" filter="url(#bl0)"/>
<path d="M174.5,185.1 L178.9,185.5 L183.3,186 L185.9,186.4 L186.3,189.9 L185,191.7 L182.4,192.1 L179.8,189.9 L177.1,187.7 L175,186.4 Z" fill="#ff2323" filter="url(#bl0)"/>
<path d="M191,156.5 L193,156.8 L193.3,159.5 L191.5,160 L190.5,158.5 Z" fill="#ff2323" filter="url(#bl0)"/>
<circle cx="158" cy="12.2" r="0.7" fill="#ff2020" opacity="0.5"/>
<circle cx="169.8" cy="20.6" r="0.7" fill="#ff2020" opacity="0.7"/>
<circle cx="226.3" cy="18.3" r="0.7" fill="#ff2020" opacity="0.7"/>
<circle cx="151.6" cy="71.3" r="0.6" fill="#ff2020" opacity="0.6"/>
<circle cx="312.3" cy="19.4" r="0.7" fill="#ff2020" opacity="0.8"/>
<circle cx="325.5" cy="26.3" r="0.7" fill="#ff2020" opacity="0.7"/>
<circle cx="339.6" cy="30.7" r="0.7" fill="#ff2020" opacity="0.7"/>
<circle cx="339.1" cy="39.5" r="1.2" fill="#ff2020" opacity="0.95"/>
<circle cx="347.2" cy="54.4" r="0.6" fill="#ff2020" opacity="0.5"/>
<circle cx="317.1" cy="67.3" r="0.6" fill="#ff2020" opacity="0.6"/>
<circle cx="325.5" cy="66.3" r="0.7" fill="#ff2020" opacity="0.7"/>
<circle cx="166.9" cy="101.5" r="0.7" fill="#ff2020" opacity="0.6"/>
<circle cx="174.6" cy="86.6" r="0.7" fill="#ff2020" opacity="0.6"/>
<circle cx="155.3" cy="106.8" r="0.6" fill="#ff2020" opacity="0.6"/>
<circle cx="180.5" cy="113.5" r="0.6" fill="#ff2020" opacity="0.5"/>
<circle cx="189.4" cy="136.3" r="0.7" fill="#ff2020" opacity="0.7"/>
<circle cx="231.1" cy="85.4" r="0.6" fill="#ff2020" opacity="0.6"/>
<circle cx="225.5" cy="105.5" r="0.6" fill="#ff2020" opacity="0.6"/>
<circle cx="242.8" cy="140.5" r="0.8" fill="#ff2020" opacity="0.8"/>
<circle cx="237.5" cy="140.5" r="0.6" fill="#ff2020" opacity="0.6"/>
<circle cx="228" cy="140.8" r="0.6" fill="#ff2020" opacity="0.6"/>
<circle cx="290.6" cy="113.2" r="1.0" fill="#ff2020" opacity="0.9"/>
<circle cx="283.7" cy="125.3" r="0.7" fill="#ff2020" opacity="0.7"/>
<circle cx="338.3" cy="112.4" r="0.7" fill="#ff2020" opacity="0.8"/>
<circle cx="298.5" cy="85" r="0.6" fill="#ff2020" opacity="0.6"/>
<circle cx="315.9" cy="95.6" r="0.6" fill="#ff2020" opacity="0.6"/>
<circle cx="255.6" cy="112.4" r="0.6" fill="#ff2020" opacity="0.6"/>
<circle cx="331.4" cy="149" r="0.7" fill="#ff2020" opacity="0.7"/>
<circle cx="354.4" cy="175.5" r="0.7" fill="#ff2020" opacity="0.8"/>
<circle cx="279.7" cy="173" r="0.7" fill="#ff2020" opacity="0.7"/>
<circle cx="295.5" cy="169.7" r="0.7" fill="#ff2020" opacity="0.7"/>
<circle cx="248.4" cy="171.8" r="0.6" fill="#ff2020" opacity="0.6"/>
<circle cx="295.6" cy="169.7" r="0.7" fill="#ff2020" opacity="0.7"/>
<circle cx="279.5" cy="172.9" r="0.6" fill="#ff2020" opacity="0.6"/>
<circle cx="301.5" cy="183.4" r="0.7" fill="#ff2020" opacity="0.7"/>
<circle cx="261" cy="210.7" r="0.6" fill="#ff2020" opacity="0.5"/>
<circle cx="255.4" cy="209.9" r="0.6" fill="#ff2020" opacity="0.5"/>
<circle cx="242.6" cy="140.8" r="0.8" fill="#ff2020" opacity="0.8"/>
<circle cx="245.8" cy="169" r="0.7" fill="#ff2020" opacity="0.6"/>
<circle cx="184" cy="213" r="0.7" fill="#ff2020" opacity="0.7"/>
<circle cx="427.2" cy="17.4" r="0.8" fill="#ff2020" opacity="0.8"/>
<circle cx="400.4" cy="47.1" r="1.0" fill="#ff2020" opacity="0.9"/>
<circle cx="409.7" cy="33.9" r="0.7" fill="#ff2020" opacity="0.7"/>
<circle cx="410" cy="37.9" r="0.7" fill="#ff2020" opacity="0.7"/>
<circle cx="398.4" cy="52.4" r="0.6" fill="#ff2020" opacity="0.6"/>
<circle cx="455" cy="32.3" r="0.7" fill="#ff2020" opacity="0.7"/>
<circle cx="381.9" cy="75.2" r="0.9" fill="#ff2020" opacity="0.8"/>
<circle cx="510.8" cy="16.2" r="0.8" fill="#ff2020" opacity="0.8"/>
<circle cx="512.4" cy="23.5" r="0.8" fill="#ff2020" opacity="0.7"/>
<circle cx="504.4" cy="33.9" r="0.9" fill="#ff2020" opacity="0.8"/>
<circle cx="497.1" cy="34.4" r="0.8" fill="#ff2020" opacity="0.8"/>
<circle cx="502" cy="36.3" r="0.8" fill="#ff2020" opacity="0.7"/>
<circle cx="509.5" cy="54.3" r="0.9" fill="#ff2020" opacity="0.9"/>
<circle cx="514.8" cy="51.1" r="0.6" fill="#ff2020" opacity="0.6"/>
<circle cx="478.4" cy="39.5" r="0.6" fill="#ff2020" opacity="0.6"/>
<circle cx="473.5" cy="62.3" r="0.6" fill="#ff2020" opacity="0.6"/>
<circle cx="385.1" cy="93.5" r="1.2" fill="#ff2020" opacity="0.95"/>
<circle cx="380.8" cy="89.1" r="0.9" fill="#ff2020" opacity="0.8"/>
<circle cx="387" cy="137.3" r="1.2" fill="#ff2020" opacity="0.95"/>
<circle cx="381.9" cy="75.8" r="0.8" fill="#ff2020" opacity="0.7"/>
<circle cx="392.3" cy="103.6" r="0.6" fill="#ff2020" opacity="0.6"/>
<circle cx="364.2" cy="100.4" r="0.6" fill="#ff2020" opacity="0.4"/>
<circle cx="371.5" cy="106.3" r="0.6" fill="#ff2020" opacity="0.4"/>
<circle cx="457.9" cy="119.2" r="0.6" fill="#ff2020" opacity="0.5"/>
<circle cx="443.4" cy="87" r="0.6" fill="#ff2020" opacity="0.5"/>
<circle cx="401.2" cy="130.4" r="0.6" fill="#ff2020" opacity="0.6"/>
<circle cx="505.2" cy="94.3" r="0.8" fill="#ff2020" opacity="0.8"/>
<circle cx="512.9" cy="100.7" r="0.6" fill="#ff2020" opacity="0.5"/>
<circle cx="481.4" cy="92.3" r="0.6" fill="#ff2020" opacity="0.6"/>
<circle cx="480.3" cy="123.5" r="0.9" fill="#ff2020" opacity="0.8"/>
<circle cx="503.6" cy="129.3" r="0.6" fill="#ff2020" opacity="0.5"/>
<circle cx="536.5" cy="88.3" r="0.6" fill="#ff2020" opacity="0.6"/>
<circle cx="435.1" cy="203.1" r="0.6" fill="#ff2020" opacity="0.7"/>
<circle cx="446.4" cy="208" r="0.7" fill="#ff2020" opacity="0.7"/>
<circle cx="504.2" cy="174.2" r="0.6" fill="#ff2020" opacity="0.4"/>
</g>
<rect x="355.6" y="9" width="2" height="215" fill="#ffffff"/>
<rect x="520" y="216.2" width="43.2" height="3.6" fill="#ffffff"/>
<text x="541.20" y="211.00" font-size="11" text-anchor="middle" fill="#ffffff" font-weight="normal">1,000 µm</text>
<text transform="translate(140.30,116.80) rotate(-90)" x="0" y="0" font-size="12.4" text-anchor="middle" fill="#e8232d" textLength="32" lengthAdjust="spacingAndGlyphs">HSV-1</text>
<text x="248.50" y="239.20" font-size="12" text-anchor="middle" fill="#3a3a3a" font-weight="normal">0</text>
<text x="452.60" y="239.20" font-size="12" text-anchor="middle" fill="#3a3a3a" font-weight="normal">1.25</text>
<line x1="146.00" y1="245.40" x2="567.00" y2="245.40" stroke="#777" stroke-width="1.1"/>
<text x="358.00" y="260.20" font-size="12" text-anchor="middle" fill="#3a3a3a" font-weight="normal" textLength="160" lengthAdjust="spacingAndGlyphs">2N4R GSK-3β p-tau (µg ml<tspan baseline-shift="4.4" font-size="7.3">−1</tspan>)</text>
<text x="129.30" y="8.80" font-size="17.5" text-anchor="start" fill="#151515" font-weight="bold" stroke="#151515" stroke-width="0.55">a</text>
<text x="-0.40" y="293.80" font-size="17.5" text-anchor="start" fill="#151515" font-weight="bold" stroke="#151515" stroke-width="0.55">b</text>
<line x1="48.00" y1="306.90" x2="48.00" y2="464.80" stroke="#878787" stroke-width="1.2"/>
<line x1="43.00" y1="307.50" x2="48.00" y2="307.50" stroke="#878787" stroke-width="1.2"/>
<text x="36.50" y="311.30" font-size="10.8" text-anchor="end" fill="#3a3a3a" font-weight="normal">100</text>
<line x1="43.00" y1="339.00" x2="48.00" y2="339.00" stroke="#878787" stroke-width="1.2"/>
<text x="36.50" y="342.80" font-size="10.8" text-anchor="end" fill="#3a3a3a" font-weight="normal">80</text>
<line x1="43.00" y1="370.50" x2="48.00" y2="370.50" stroke="#878787" stroke-width="1.2"/>
<text x="36.50" y="374.30" font-size="10.8" text-anchor="end" fill="#3a3a3a" font-weight="normal">60</text>
<line x1="43.00" y1="401.90" x2="48.00" y2="401.90" stroke="#878787" stroke-width="1.2"/>
<text x="36.50" y="405.70" font-size="10.8" text-anchor="end" fill="#3a3a3a" font-weight="normal">40</text>
<line x1="43.00" y1="433.30" x2="48.00" y2="433.30" stroke="#878787" stroke-width="1.2"/>
<text x="36.50" y="437.10" font-size="10.8" text-anchor="end" fill="#3a3a3a" font-weight="normal">20</text>
<line x1="43.00" y1="464.80" x2="48.00" y2="464.80" stroke="#878787" stroke-width="1.2"/>
<text x="36.50" y="468.60" font-size="10.8" text-anchor="end" fill="#3a3a3a" font-weight="normal">0</text>
<line x1="42.80" y1="464.80" x2="218.00" y2="464.80" stroke="#878787" stroke-width="1.2"/>
<line x1="73.70" y1="464.80" x2="73.70" y2="470.00" stroke="#878787" stroke-width="1.2"/>
<text x="73.70" y="483.00" font-size="10.8" text-anchor="middle" fill="#3a3a3a" font-weight="normal">0</text>
<line x1="112.90" y1="464.80" x2="112.90" y2="470.00" stroke="#878787" stroke-width="1.2"/>
<text x="112.90" y="483.00" font-size="10.8" text-anchor="middle" fill="#3a3a3a" font-weight="normal">2.5</text>
<line x1="152.30" y1="464.80" x2="152.30" y2="470.00" stroke="#878787" stroke-width="1.2"/>
<text x="152.30" y="483.00" font-size="10.8" text-anchor="middle" fill="#3a3a3a" font-weight="normal">1.25</text>
<line x1="190.40" y1="464.80" x2="190.40" y2="470.00" stroke="#878787" stroke-width="1.2"/>
<text x="190.40" y="483.00" font-size="10.8" text-anchor="middle" fill="#3a3a3a" font-weight="normal">0.625</text>
<line x1="73.80" y1="334.40" x2="73.80" y2="373.60" stroke="#737373" stroke-width="1.2"/>
<line x1="73.80" y1="405.20" x2="73.80" y2="424.00" stroke="#737373" stroke-width="1.2"/>
<line x1="67.30" y1="334.40" x2="80.30" y2="334.40" stroke="#737373" stroke-width="1.2"/>
<line x1="67.30" y1="424.00" x2="80.30" y2="424.00" stroke="#737373" stroke-width="1.2"/>
<rect x="60.75" y="373.60" width="26.10" height="31.60" fill="#8a7193" stroke="#4b3a52" stroke-width="1.1"/>
<line x1="60.75" y1="386.30" x2="86.85" y2="386.30" stroke="#45354d" stroke-width="1.5"/>
<line x1="113.20" y1="350.20" x2="113.20" y2="387.20" stroke="#737373" stroke-width="1.2"/>
<line x1="113.20" y1="417.40" x2="113.20" y2="425.30" stroke="#737373" stroke-width="1.2"/>
<line x1="106.70" y1="350.20" x2="119.70" y2="350.20" stroke="#737373" stroke-width="1.2"/>
<line x1="106.70" y1="425.30" x2="119.70" y2="425.30" stroke="#737373" stroke-width="1.2"/>
<rect x="100.40" y="387.20" width="25.60" height="30.20" fill="#908cb7" stroke="#4a4766" stroke-width="1.1"/>
<line x1="100.40" y1="401.90" x2="126.00" y2="401.90" stroke="#4a4766" stroke-width="1.5"/>
<line x1="152.30" y1="375.30" x2="152.30" y2="405.40" stroke="#737373" stroke-width="1.2"/>
<line x1="152.30" y1="429.50" x2="152.30" y2="453.60" stroke="#737373" stroke-width="1.2"/>
<line x1="145.80" y1="375.30" x2="158.80" y2="375.30" stroke="#737373" stroke-width="1.2"/>
<line x1="145.80" y1="453.60" x2="158.80" y2="453.60" stroke="#737373" stroke-width="1.2"/>
<rect x="139.20" y="405.40" width="26.20" height="24.10" fill="#92adbb" stroke="#4a5660" stroke-width="1.1"/>
<line x1="139.20" y1="413.50" x2="165.40" y2="413.50" stroke="#4a5660" stroke-width="1.5"/>
<line x1="191.50" y1="345.30" x2="191.50" y2="362.70" stroke="#737373" stroke-width="1.2"/>
<line x1="191.50" y1="397.30" x2="191.50" y2="417.60" stroke="#737373" stroke-width="1.2"/>
<line x1="185.00" y1="345.30" x2="198.00" y2="345.30" stroke="#737373" stroke-width="1.2"/>
<line x1="185.00" y1="417.60" x2="198.00" y2="417.60" stroke="#737373" stroke-width="1.2"/>
<rect x="178.40" y="362.70" width="26.20" height="34.60" fill="#9ccbb7" stroke="#4f6159" stroke-width="1.1"/>
<line x1="178.40" y1="370.60" x2="204.60" y2="370.60" stroke="#4f6159" stroke-width="1.5"/>
<path d="M73.80,324.30 V315.80 H152.20 V365.70" fill="none" stroke="#878787" stroke-width="1.2"/>
<path d="M109.55,310.70 L109.55,308.50 M109.55,310.70 L111.64,310.02 M109.55,310.70 L110.84,312.48 M109.55,310.70 L108.26,312.48 M109.55,310.70 L107.46,310.02" stroke="#333333" stroke-width="1.3" stroke-linecap="round" fill="none"/>
<path d="M116.45,310.70 L116.45,308.50 M116.45,310.70 L118.54,310.02 M116.45,310.70 L117.74,312.48 M116.45,310.70 L115.16,312.48 M116.45,310.70 L114.36,310.02" stroke="#333333" stroke-width="1.3" stroke-linecap="round" fill="none"/>
<text transform="translate(9.80,386.00) rotate(-90)" x="0" y="0" font-size="12" text-anchor="middle" fill="#3a3a3a" textLength="74.4" lengthAdjust="spacingAndGlyphs">Plaque count</text>
<text x="132.60" y="500.40" font-size="12" text-anchor="middle" fill="#3a3a3a" font-weight="normal" textLength="107.7" lengthAdjust="spacingAndGlyphs">2N4R GSK-3β p-tau</text>
<text x="133.00" y="513.90" font-size="12" text-anchor="middle" fill="#3a3a3a" font-weight="normal" textLength="129.6" lengthAdjust="spacingAndGlyphs">concentration (µg ml<tspan baseline-shift="4.4" font-size="7.3">−1</tspan>)</text>
<text x="228.60" y="293.50" font-size="17.5" text-anchor="start" fill="#151515" font-weight="bold" stroke="#151515" stroke-width="0.55">c</text>
<line x1="286.40" y1="303.90" x2="286.40" y2="464.80" stroke="#878787" stroke-width="1.2"/>
<line x1="281.40" y1="304.50" x2="286.40" y2="304.50" stroke="#878787" stroke-width="1.2"/>
<text x="276.40" y="308.30" font-size="10.8" text-anchor="end" fill="#3a3a3a" font-weight="normal" textLength="28.93" lengthAdjust="spacingAndGlyphs">1,000</text>
<line x1="281.40" y1="336.60" x2="286.40" y2="336.60" stroke="#878787" stroke-width="1.2"/>
<text x="276.40" y="340.40" font-size="10.8" text-anchor="end" fill="#3a3a3a" font-weight="normal">800</text>
<line x1="281.40" y1="368.50" x2="286.40" y2="368.50" stroke="#878787" stroke-width="1.2"/>
<text x="276.40" y="372.30" font-size="10.8" text-anchor="end" fill="#3a3a3a" font-weight="normal">600</text>
<line x1="281.40" y1="400.60" x2="286.40" y2="400.60" stroke="#878787" stroke-width="1.2"/>
<text x="276.40" y="404.40" font-size="10.8" text-anchor="end" fill="#3a3a3a" font-weight="normal">400</text>
<line x1="281.40" y1="432.70" x2="286.40" y2="432.70" stroke="#878787" stroke-width="1.2"/>
<text x="276.40" y="436.50" font-size="10.8" text-anchor="end" fill="#3a3a3a" font-weight="normal">200</text>
<line x1="281.40" y1="464.80" x2="286.40" y2="464.80" stroke="#878787" stroke-width="1.2"/>
<text x="276.40" y="468.60" font-size="10.8" text-anchor="end" fill="#3a3a3a" font-weight="normal">0</text>
<line x1="281.40" y1="464.80" x2="451.70" y2="464.80" stroke="#878787" stroke-width="1.2"/>
<line x1="311.60" y1="464.80" x2="311.60" y2="470.00" stroke="#878787" stroke-width="1.2"/>
<text x="311.60" y="483.00" font-size="10.8" text-anchor="middle" fill="#3a3a3a" font-weight="normal">0</text>
<line x1="349.60" y1="464.80" x2="349.60" y2="470.00" stroke="#878787" stroke-width="1.2"/>
<text x="349.60" y="483.00" font-size="10.8" text-anchor="middle" fill="#3a3a3a" font-weight="normal">2.5</text>
<line x1="387.50" y1="464.80" x2="387.50" y2="470.00" stroke="#878787" stroke-width="1.2"/>
<text x="387.50" y="483.00" font-size="10.8" text-anchor="middle" fill="#3a3a3a" font-weight="normal">1.25</text>
<line x1="425.90" y1="464.80" x2="425.90" y2="470.00" stroke="#878787" stroke-width="1.2"/>
<text x="425.90" y="483.00" font-size="10.8" text-anchor="middle" fill="#3a3a3a" font-weight="normal">0.625</text>
<line x1="311.80" y1="350.90" x2="311.80" y2="372.50" stroke="#737373" stroke-width="1.2"/>
<line x1="311.80" y1="394.50" x2="311.80" y2="417.60" stroke="#737373" stroke-width="1.2"/>
<line x1="305.30" y1="350.90" x2="318.30" y2="350.90" stroke="#737373" stroke-width="1.2"/>
<line x1="305.30" y1="417.60" x2="318.30" y2="417.60" stroke="#737373" stroke-width="1.2"/>
<rect x="299.10" y="372.50" width="25.40" height="22.00" fill="#8a7193" stroke="#4b3a52" stroke-width="1.1"/>
<line x1="299.10" y1="381.40" x2="324.50" y2="381.40" stroke="#45354d" stroke-width="1.5"/>
<line x1="349.90" y1="370.50" x2="349.90" y2="373.80" stroke="#737373" stroke-width="1.2"/>
<line x1="349.90" y1="395.30" x2="349.90" y2="418.30" stroke="#737373" stroke-width="1.2"/>
<line x1="343.40" y1="370.50" x2="356.40" y2="370.50" stroke="#737373" stroke-width="1.2"/>
<line x1="343.40" y1="418.30" x2="356.40" y2="418.30" stroke="#737373" stroke-width="1.2"/>
<rect x="337.40" y="373.80" width="25.00" height="21.50" fill="#908cb7" stroke="#4a4766" stroke-width="1.1"/>
<line x1="337.40" y1="389.40" x2="362.40" y2="389.40" stroke="#4a4766" stroke-width="1.5"/>
<line x1="387.80" y1="352.30" x2="387.80" y2="387.10" stroke="#737373" stroke-width="1.2"/>
<line x1="387.80" y1="416.60" x2="387.80" y2="443.50" stroke="#737373" stroke-width="1.2"/>
<line x1="381.30" y1="352.30" x2="394.30" y2="352.30" stroke="#737373" stroke-width="1.2"/>
<line x1="381.30" y1="443.50" x2="394.30" y2="443.50" stroke="#737373" stroke-width="1.2"/>
<rect x="375.20" y="387.10" width="25.20" height="29.50" fill="#92adbb" stroke="#4a5660" stroke-width="1.1"/>
<line x1="375.20" y1="402.90" x2="400.40" y2="402.90" stroke="#4a5660" stroke-width="1.5"/>
<line x1="425.90" y1="353.40" x2="425.90" y2="365.40" stroke="#737373" stroke-width="1.2"/>
<line x1="425.90" y1="404.50" x2="425.90" y2="424.20" stroke="#737373" stroke-width="1.2"/>
<line x1="419.40" y1="353.40" x2="432.40" y2="353.40" stroke="#737373" stroke-width="1.2"/>
<line x1="419.40" y1="424.20" x2="432.40" y2="424.20" stroke="#737373" stroke-width="1.2"/>
<rect x="413.30" y="365.40" width="25.20" height="39.10" fill="#9ccbb7" stroke="#4f6159" stroke-width="1.1"/>
<line x1="413.30" y1="381.50" x2="438.50" y2="381.50" stroke="#4f6159" stroke-width="1.5"/>
<circle cx="349.6" cy="339.5" r="3.6" fill="#3a3d8c"/>
<path d="M311.60,341.70 V320.30 H387.40 V342.60" fill="none" stroke="#878787" stroke-width="1.2"/>
<path d="M349.50,315.20 L349.50,313.00 M349.50,315.20 L351.59,314.52 M349.50,315.20 L350.79,316.98 M349.50,315.20 L348.21,316.98 M349.50,315.20 L347.41,314.52" stroke="#333333" stroke-width="1.3" stroke-linecap="round" fill="none"/>
<text transform="translate(239.10,385.00) rotate(-90)" x="0" y="0" font-size="12" text-anchor="middle" fill="#3a3a3a" textLength="106" lengthAdjust="spacingAndGlyphs">Infected cell count</text>
<text x="369.00" y="500.40" font-size="12" text-anchor="middle" fill="#3a3a3a" font-weight="normal" textLength="107.5" lengthAdjust="spacingAndGlyphs">2N4R GSK-3β p-tau</text>
<text x="368.80" y="513.90" font-size="12" text-anchor="middle" fill="#3a3a3a" font-weight="normal" textLength="128.5" lengthAdjust="spacingAndGlyphs">concentration (µg ml<tspan baseline-shift="4.4" font-size="7.3">−1</tspan>)</text>
<text x="465.00" y="294.00" font-size="17.5" text-anchor="start" fill="#151515" font-weight="bold" stroke="#151515" stroke-width="0.55">d</text>
<line x1="517.80" y1="303.90" x2="517.80" y2="464.80" stroke="#878787" stroke-width="1.2"/>
<line x1="512.80" y1="304.50" x2="517.80" y2="304.50" stroke="#878787" stroke-width="1.2"/>
<text x="506.60" y="308.30" font-size="10.8" text-anchor="end" fill="#3a3a3a" font-weight="normal" textLength="22.52" lengthAdjust="spacingAndGlyphs">0.20</text>
<line x1="512.80" y1="344.60" x2="517.80" y2="344.60" stroke="#878787" stroke-width="1.2"/>
<text x="506.60" y="348.40" font-size="10.8" text-anchor="end" fill="#3a3a3a" font-weight="normal" textLength="22.52" lengthAdjust="spacingAndGlyphs">0.15</text>
<line x1="512.80" y1="384.40" x2="517.80" y2="384.40" stroke="#878787" stroke-width="1.2"/>
<text x="506.60" y="388.20" font-size="10.8" text-anchor="end" fill="#3a3a3a" font-weight="normal" textLength="22.52" lengthAdjust="spacingAndGlyphs">0.10</text>
<line x1="512.80" y1="424.50" x2="517.80" y2="424.50" stroke="#878787" stroke-width="1.2"/>
<text x="506.60" y="428.30" font-size="10.8" text-anchor="end" fill="#3a3a3a" font-weight="normal" textLength="22.52" lengthAdjust="spacingAndGlyphs">0.05</text>
<line x1="512.80" y1="464.80" x2="517.80" y2="464.80" stroke="#878787" stroke-width="1.2"/>
<text x="506.60" y="468.60" font-size="10.8" text-anchor="end" fill="#3a3a3a" font-weight="normal">0</text>
<line x1="512.80" y1="464.80" x2="684.50" y2="464.80" stroke="#878787" stroke-width="1.2"/>
<line x1="543.40" y1="464.80" x2="543.40" y2="470.00" stroke="#878787" stroke-width="1.2"/>
<text x="543.40" y="483.00" font-size="10.8" text-anchor="middle" fill="#3a3a3a" font-weight="normal">0</text>
<line x1="581.60" y1="464.80" x2="581.60" y2="470.00" stroke="#878787" stroke-width="1.2"/>
<text x="581.60" y="483.00" font-size="10.8" text-anchor="middle" fill="#3a3a3a" font-weight="normal">2.5</text>
<line x1="620.00" y1="464.80" x2="620.00" y2="470.00" stroke="#878787" stroke-width="1.2"/>
<text x="620.00" y="483.00" font-size="10.8" text-anchor="middle" fill="#3a3a3a" font-weight="normal">1.25</text>
<line x1="658.50" y1="464.80" x2="658.50" y2="470.00" stroke="#878787" stroke-width="1.2"/>
<text x="658.50" y="483.00" font-size="10.8" text-anchor="middle" fill="#3a3a3a" font-weight="normal">0.625</text>
<line x1="543.50" y1="362.40" x2="543.50" y2="376.20" stroke="#737373" stroke-width="1.2"/>
<line x1="543.50" y1="398.50" x2="543.50" y2="416.30" stroke="#737373" stroke-width="1.2"/>
<line x1="537.00" y1="362.40" x2="550.00" y2="362.40" stroke="#737373" stroke-width="1.2"/>
<line x1="537.00" y1="416.30" x2="550.00" y2="416.30" stroke="#737373" stroke-width="1.2"/>
<rect x="530.75" y="376.20" width="25.50" height="22.30" fill="#8a7193" stroke="#4b3a52" stroke-width="1.1"/>
<line x1="530.75" y1="389.40" x2="556.25" y2="389.40" stroke="#45354d" stroke-width="1.5"/>
<line x1="582.10" y1="359.70" x2="582.10" y2="388.20" stroke="#737373" stroke-width="1.2"/>
<line x1="582.10" y1="407.70" x2="582.10" y2="427.40" stroke="#737373" stroke-width="1.2"/>
<line x1="575.60" y1="359.70" x2="588.60" y2="359.70" stroke="#737373" stroke-width="1.2"/>
<line x1="575.60" y1="427.40" x2="588.60" y2="427.40" stroke="#737373" stroke-width="1.2"/>
<rect x="569.30" y="388.20" width="25.60" height="19.50" fill="#908cb7" stroke="#4a4766" stroke-width="1.1"/>
<line x1="569.30" y1="398.20" x2="594.90" y2="398.20" stroke="#4a4766" stroke-width="1.5"/>
<line x1="620.00" y1="384.40" x2="620.00" y2="394.50" stroke="#737373" stroke-width="1.2"/>
<line x1="620.00" y1="415.60" x2="620.00" y2="424.50" stroke="#737373" stroke-width="1.2"/>
<line x1="613.50" y1="384.40" x2="626.50" y2="384.40" stroke="#737373" stroke-width="1.2"/>
<line x1="613.50" y1="424.50" x2="626.50" y2="424.50" stroke="#737373" stroke-width="1.2"/>
<rect x="607.30" y="394.50" width="25.40" height="21.10" fill="#92adbb" stroke="#4a5660" stroke-width="1.1"/>
<line x1="607.30" y1="404.40" x2="632.70" y2="404.40" stroke="#4a5660" stroke-width="1.5"/>
<line x1="658.60" y1="343.50" x2="658.60" y2="364.50" stroke="#737373" stroke-width="1.2"/>
<line x1="658.60" y1="396.30" x2="658.60" y2="400.70" stroke="#737373" stroke-width="1.2"/>
<line x1="652.10" y1="343.50" x2="665.10" y2="343.50" stroke="#737373" stroke-width="1.2"/>
<line x1="652.10" y1="400.70" x2="665.10" y2="400.70" stroke="#737373" stroke-width="1.2"/>
<rect x="645.60" y="364.50" width="26.00" height="31.80" fill="#9ccbb7" stroke="#4f6159" stroke-width="1.1"/>
<line x1="645.60" y1="367.40" x2="671.60" y2="367.40" stroke="#4f6159" stroke-width="1.5"/>
<path d="M543.40,352.70 V324.80 H620.00 V374.70" fill="none" stroke="#878787" stroke-width="1.2"/>
<path d="M581.70,319.70 L581.70,317.50 M581.70,319.70 L583.79,319.02 M581.70,319.70 L582.99,321.48 M581.70,319.70 L580.41,321.48 M581.70,319.70 L579.61,319.02" stroke="#333333" stroke-width="1.3" stroke-linecap="round" fill="none"/>
<text transform="translate(475.50,384.00) rotate(-90)" x="0" y="0" font-size="12" text-anchor="middle" fill="#3a3a3a" textLength="142" lengthAdjust="spacingAndGlyphs">Plaque/infected cell ratio</text>
<text x="601.00" y="500.40" font-size="12" text-anchor="middle" fill="#3a3a3a" font-weight="normal" textLength="108" lengthAdjust="spacingAndGlyphs">2N4R GSK-3β p-tau</text>
<text x="601.00" y="513.90" font-size="12" text-anchor="middle" fill="#3a3a3a" font-weight="normal" textLength="129" lengthAdjust="spacingAndGlyphs">concentration (µg ml<tspan baseline-shift="4.4" font-size="7.3">−1</tspan>)</text>
<text x="96.50" y="552.80" font-size="17.5" text-anchor="start" fill="#151515" font-weight="bold" stroke="#151515" stroke-width="0.55">e</text>
<line x1="165.70" y1="562.80" x2="165.70" y2="713.60" stroke="#878787" stroke-width="1.2"/>
<line x1="160.70" y1="563.40" x2="165.70" y2="563.40" stroke="#878787" stroke-width="1.2"/>
<text x="156.40" y="567.20" font-size="10.8" text-anchor="end" fill="#3a3a3a" font-weight="normal" textLength="34.43" lengthAdjust="spacingAndGlyphs">15,000</text>
<line x1="160.70" y1="613.40" x2="165.70" y2="613.40" stroke="#878787" stroke-width="1.2"/>
<text x="156.40" y="617.20" font-size="10.8" text-anchor="end" fill="#3a3a3a" font-weight="normal" textLength="34.43" lengthAdjust="spacingAndGlyphs">10,000</text>
<line x1="160.70" y1="663.40" x2="165.70" y2="663.40" stroke="#878787" stroke-width="1.2"/>
<text x="156.40" y="667.20" font-size="10.8" text-anchor="end" fill="#3a3a3a" font-weight="normal" textLength="28.93" lengthAdjust="spacingAndGlyphs">5,000</text>
<line x1="160.70" y1="713.60" x2="165.70" y2="713.60" stroke="#878787" stroke-width="1.2"/>
<text x="156.40" y="717.40" font-size="10.8" text-anchor="end" fill="#3a3a3a" font-weight="normal">0</text>
<line x1="161.80" y1="713.60" x2="257.50" y2="713.60" stroke="#878787" stroke-width="1.2"/>
<line x1="191.70" y1="713.60" x2="191.70" y2="718.80" stroke="#878787" stroke-width="1.2"/>
<text x="191.70" y="732.00" font-size="10.8" text-anchor="middle" fill="#3a3a3a" font-weight="normal">0</text>
<line x1="231.10" y1="713.60" x2="231.10" y2="718.80" stroke="#878787" stroke-width="1.2"/>
<text x="231.10" y="732.00" font-size="10.8" text-anchor="middle" fill="#3a3a3a" font-weight="normal">1.25</text>
<line x1="192.00" y1="572.10" x2="192.00" y2="666.00" stroke="#706c76" stroke-width="1.05"/>
<path d="M192.20,663.00 C192.24,663.92 192.33,667.17 192.45,668.50 C192.57,669.83 192.88,670.17 192.90,671.00 C192.93,671.83 192.53,672.45 192.60,673.50 C192.67,674.55 193.07,675.55 193.30,677.30 C193.53,679.05 193.78,682.22 194.00,684.00 C194.22,685.78 194.35,686.75 194.60,688.00 C194.85,689.25 195.10,690.42 195.50,691.50 C195.90,692.58 196.42,693.58 197.00,694.50 C197.58,695.42 198.25,696.17 199.00,697.00 C199.75,697.83 200.78,698.75 201.50,699.50 C202.22,700.25 202.78,700.75 203.30,701.50 C203.82,702.25 204.65,703.17 204.60,704.00 C204.55,704.83 203.68,705.75 203.00,706.50 C202.32,707.25 201.50,707.88 200.50,708.50 C199.50,709.12 197.92,709.85 197.00,710.20 C196.08,710.55 195.33,710.53 195.00,710.60 L189.00,710.60 C188.67,710.53 187.92,710.55 187.00,710.20 C186.08,709.85 184.50,709.12 183.50,708.50 C182.50,707.88 181.68,707.25 181.00,706.50 C180.32,705.75 179.45,704.83 179.40,704.00 C179.35,703.17 180.18,702.25 180.70,701.50 C181.22,700.75 181.78,700.25 182.50,699.50 C183.22,698.75 184.25,697.83 185.00,697.00 C185.75,696.17 186.42,695.42 187.00,694.50 C187.58,693.58 188.10,692.58 188.50,691.50 C188.90,690.42 189.15,689.25 189.40,688.00 C189.65,686.75 189.78,685.78 190.00,684.00 C190.22,682.22 190.47,679.05 190.70,677.30 C190.93,675.55 191.33,674.55 191.40,673.50 C191.47,672.45 191.07,671.83 191.10,671.00 C191.12,670.17 191.43,669.83 191.55,668.50 C191.67,667.17 191.76,663.92 191.80,663.00 Z" fill="#8a6e96" stroke="#3f3646" stroke-width="0.85" stroke-linejoin="round"/>
<line x1="184.00" y1="701.60" x2="197.80" y2="701.60" stroke="#4a1d5a" stroke-width="2.0"/>
<line x1="231.10" y1="610.80" x2="231.10" y2="666.00" stroke="#706c76" stroke-width="1.05"/>
<path d="M231.30,663.00 C231.35,663.75 231.38,666.32 231.60,667.50 C231.82,668.68 232.53,669.27 232.60,670.10 C232.67,670.93 232.07,671.35 232.00,672.50 C231.93,673.65 232.15,675.62 232.20,677.00 C232.25,678.38 232.12,679.63 232.30,680.80 C232.48,681.97 232.97,683.05 233.30,684.00 C233.63,684.95 234.15,685.70 234.30,686.50 C234.45,687.30 234.32,688.00 234.20,688.80 C234.08,689.60 233.53,690.57 233.60,691.30 C233.67,692.03 234.18,692.58 234.60,693.20 C235.02,693.82 235.35,694.10 236.10,695.00 C236.85,695.90 238.35,697.55 239.10,698.60 C239.85,699.65 240.02,700.40 240.60,701.30 C241.18,702.20 242.18,703.10 242.60,704.00 C243.02,704.90 243.35,705.82 243.10,706.70 C242.85,707.58 241.93,708.65 241.10,709.30 C240.27,709.95 238.60,710.38 238.10,710.60 L224.10,710.60 C223.60,710.38 221.93,709.95 221.10,709.30 C220.27,708.65 219.35,707.58 219.10,706.70 C218.85,705.82 219.18,704.90 219.60,704.00 C220.02,703.10 221.02,702.20 221.60,701.30 C222.18,700.40 222.35,699.65 223.10,698.60 C223.85,697.55 225.35,695.90 226.10,695.00 C226.85,694.10 227.18,693.82 227.60,693.20 C228.02,692.58 228.53,692.03 228.60,691.30 C228.67,690.57 228.12,689.60 228.00,688.80 C227.88,688.00 227.75,687.30 227.90,686.50 C228.05,685.70 228.57,684.95 228.90,684.00 C229.23,683.05 229.72,681.97 229.90,680.80 C230.08,679.63 229.95,678.38 230.00,677.00 C230.05,675.62 230.27,673.65 230.20,672.50 C230.13,671.35 229.53,670.93 229.60,670.10 C229.67,669.27 230.38,668.68 230.60,667.50 C230.82,666.32 230.85,663.75 230.90,663.00 Z" fill="#8f8ac0" stroke="#3e3d5a" stroke-width="0.85" stroke-linejoin="round"/>
<line x1="223.00" y1="702.20" x2="238.20" y2="702.20" stroke="#3a44a0" stroke-width="1.8"/>
<path d="M191.70,563.10 V554.30 H231.20 V601.60" fill="none" stroke="#878787" stroke-width="1.2"/>
<path d="M211.45,549.20 L211.45,547.00 M211.45,549.20 L213.54,548.52 M211.45,549.20 L212.74,550.98 M211.45,549.20 L210.16,550.98 M211.45,549.20 L209.36,548.52" stroke="#333333" stroke-width="1.3" stroke-linecap="round" fill="none"/>
<text transform="translate(113.00,638.60) rotate(-90)" x="0" y="0" font-size="12" text-anchor="middle" fill="#3a3a3a" textLength="101.6" lengthAdjust="spacingAndGlyphs">Plaque size (mm<tspan baseline-shift="4.4" font-size="7.3">2</tspan>)</text>
<text x="202.00" y="748.50" font-size="12" text-anchor="middle" fill="#3a3a3a" font-weight="normal" textLength="107.5" lengthAdjust="spacingAndGlyphs">2N4R GSK-3β p-tau</text>
<text x="202.00" y="762.00" font-size="12" text-anchor="middle" fill="#3a3a3a" font-weight="normal" textLength="128.5" lengthAdjust="spacingAndGlyphs">concentration (µg ml<tspan baseline-shift="4.4" font-size="7.3">−1</tspan>)</text>
<text x="297.00" y="552.80" font-size="17.5" text-anchor="start" fill="#151515" font-weight="bold" stroke="#151515" stroke-width="0.55">f</text>
<line x1="365.70" y1="565.90" x2="365.70" y2="713.80" stroke="#878787" stroke-width="1.2"/>
<line x1="360.70" y1="566.50" x2="365.70" y2="566.50" stroke="#878787" stroke-width="1.2"/>
<text x="355.30" y="570.30" font-size="10.8" text-anchor="end" fill="#3a3a3a" font-weight="normal" textLength="34.43" lengthAdjust="spacingAndGlyphs">15,000</text>
<line x1="360.70" y1="615.50" x2="365.70" y2="615.50" stroke="#878787" stroke-width="1.2"/>
<text x="355.30" y="619.30" font-size="10.8" text-anchor="end" fill="#3a3a3a" font-weight="normal" textLength="34.43" lengthAdjust="spacingAndGlyphs">10,000</text>
<line x1="360.70" y1="664.60" x2="365.70" y2="664.60" stroke="#878787" stroke-width="1.2"/>
<text x="355.30" y="668.40" font-size="10.8" text-anchor="end" fill="#3a3a3a" font-weight="normal" textLength="28.93" lengthAdjust="spacingAndGlyphs">5,000</text>
<line x1="360.70" y1="713.80" x2="365.70" y2="713.80" stroke="#878787" stroke-width="1.2"/>
<text x="355.30" y="717.60" font-size="10.8" text-anchor="end" fill="#3a3a3a" font-weight="normal">0</text>
<line x1="360.70" y1="713.80" x2="583.40" y2="713.80" stroke="#878787" stroke-width="1.2"/>
<line x1="390.60" y1="713.80" x2="390.60" y2="719.00" stroke="#878787" stroke-width="1.2"/>
<text x="390.60" y="731.50" font-size="10.8" text-anchor="middle" fill="#3a3a3a" font-weight="normal">Q1</text>
<line x1="446.40" y1="713.80" x2="446.40" y2="719.00" stroke="#878787" stroke-width="1.2"/>
<text x="446.40" y="731.50" font-size="10.8" text-anchor="middle" fill="#3a3a3a" font-weight="normal">Q2</text>
<line x1="502.40" y1="713.80" x2="502.40" y2="719.00" stroke="#878787" stroke-width="1.2"/>
<text x="502.40" y="731.50" font-size="10.8" text-anchor="middle" fill="#3a3a3a" font-weight="normal">Q3</text>
<line x1="558.30" y1="713.80" x2="558.30" y2="719.00" stroke="#878787" stroke-width="1.2"/>
<text x="558.30" y="731.50" font-size="10.8" text-anchor="middle" fill="#3a3a3a" font-weight="normal">Q4</text>
<path d="M380.20,704.80 C380.98,704.88 383.92,705.00 384.90,705.30 C385.88,705.60 386.18,706.22 386.10,706.60 C386.02,706.98 384.93,707.28 384.40,707.60 C383.87,707.92 383.12,708.17 382.90,708.50 C382.68,708.83 383.55,709.28 383.10,709.60 C382.65,709.92 380.68,710.27 380.20,710.40 L379.60,710.40 C379.12,710.27 377.15,709.92 376.70,709.60 C376.25,709.28 377.12,708.83 376.90,708.50 C376.68,708.17 375.93,707.92 375.40,707.60 C374.87,707.28 373.78,706.98 373.70,706.60 C373.62,706.22 373.92,705.60 374.90,705.30 C375.88,705.00 378.82,704.88 379.60,704.80 Z" fill="#8a6e96" stroke="#3f3646" stroke-width="0.8" stroke-linejoin="round"/>
<line x1="374.00" y1="706.20" x2="386.00" y2="706.20" stroke="#4a1d5a" stroke-width="1.8"/>
<path d="M401.20,705.80 C401.62,705.90 403.00,706.10 403.70,706.40 C404.40,706.70 404.75,707.17 405.40,707.60 C406.05,708.03 407.52,708.62 407.60,709.00 C407.68,709.38 406.97,709.62 405.90,709.90 C404.83,710.18 401.98,710.57 401.20,710.70 L400.60,710.70 C399.82,710.57 396.97,710.18 395.90,709.90 C394.83,709.62 394.12,709.38 394.20,709.00 C394.28,708.62 395.75,708.03 396.40,707.60 C397.05,707.17 397.40,706.70 398.10,706.40 C398.80,706.10 400.18,705.90 400.60,705.80 Z" fill="#8f8ac0" stroke="#3e3d5a" stroke-width="0.8" stroke-linejoin="round"/>
<line x1="396.00" y1="708.00" x2="406.00" y2="708.00" stroke="#3a44a0" stroke-width="1.6"/>
<path d="M436.30,702.00 C436.75,702.13 438.00,702.43 439.00,702.80 C440.00,703.17 442.22,703.80 442.30,704.20 C442.38,704.60 440.50,704.93 439.50,705.20 C438.50,705.47 436.83,705.70 436.30,705.80 L435.70,705.80 C435.17,705.70 433.50,705.47 432.50,705.20 C431.50,704.93 429.62,704.60 429.70,704.20 C429.78,703.80 432.00,703.17 433.00,702.80 C434.00,702.43 435.25,702.13 435.70,702.00 Z" fill="#8a6e96" stroke="#3f3646" stroke-width="0.8" stroke-linejoin="round"/>
<line x1="431.00" y1="703.80" x2="441.00" y2="703.80" stroke="#4a1d5a" stroke-width="1.8"/>
<path d="M457.20,702.30 C457.57,702.45 458.70,702.85 459.40,703.20 C460.10,703.55 460.77,704.02 461.40,704.40 C462.03,704.78 463.37,705.17 463.20,705.50 C463.03,705.83 461.40,706.12 460.40,706.40 C459.40,706.68 457.73,707.07 457.20,707.20 L456.60,707.20 C456.07,707.07 454.40,706.68 453.40,706.40 C452.40,706.12 450.77,705.83 450.60,705.50 C450.43,705.17 451.77,704.78 452.40,704.40 C453.03,704.02 453.70,703.55 454.40,703.20 C455.10,702.85 456.23,702.45 456.60,702.30 Z" fill="#8f8ac0" stroke="#3e3d5a" stroke-width="0.8" stroke-linejoin="round"/>
<line x1="452.00" y1="705.00" x2="462.00" y2="705.00" stroke="#3a44a0" stroke-width="1.6"/>
<path d="M492.20,692.30 C492.52,692.50 493.72,692.97 494.10,693.50 C494.48,694.03 494.27,694.88 494.50,695.50 C494.73,696.12 495.13,696.70 495.50,697.20 C495.87,697.70 496.25,697.92 496.70,698.50 C497.15,699.08 498.33,700.12 498.20,700.70 C498.07,701.28 496.90,701.62 495.90,702.00 C494.90,702.38 492.82,702.83 492.20,703.00 L491.60,703.00 C490.98,702.83 488.90,702.38 487.90,702.00 C486.90,701.62 485.73,701.28 485.60,700.70 C485.47,700.12 486.65,699.08 487.10,698.50 C487.55,697.92 487.93,697.70 488.30,697.20 C488.67,696.70 489.07,696.12 489.30,695.50 C489.53,694.88 489.32,694.03 489.70,693.50 C490.08,692.97 491.28,692.50 491.60,692.30 Z" fill="#8a6e96" stroke="#3f3646" stroke-width="0.8" stroke-linejoin="round"/>
<line x1="486.20" y1="698.70" x2="496.80" y2="698.70" stroke="#4a1d5a" stroke-width="2.2"/>
<path d="M513.10,695.70 C513.47,695.85 514.62,696.17 515.30,696.60 C515.98,697.03 516.68,697.70 517.20,698.30 C517.72,698.90 518.08,699.67 518.40,700.20 C518.72,700.73 519.45,701.10 519.10,701.50 C518.75,701.90 517.30,702.27 516.30,702.60 C515.30,702.93 513.63,703.35 513.10,703.50 L512.50,703.50 C511.97,703.35 510.30,702.93 509.30,702.60 C508.30,702.27 506.85,701.90 506.50,701.50 C506.15,701.10 506.88,700.73 507.20,700.20 C507.52,699.67 507.88,698.90 508.40,698.30 C508.92,697.70 509.62,697.03 510.30,696.60 C510.98,696.17 512.13,695.85 512.50,695.70 Z" fill="#8f8ac0" stroke="#3e3d5a" stroke-width="0.8" stroke-linejoin="round"/>
<line x1="507.90" y1="699.90" x2="517.60" y2="699.90" stroke="#3a44a0" stroke-width="2.0"/>
<line x1="547.60" y1="566.30" x2="547.60" y2="628.00" stroke="#706c76" stroke-width="1.05"/>
<line x1="547.60" y1="699.00" x2="547.60" y2="705.40" stroke="#4a4550" stroke-width="1.1"/>
<path d="M547.80,625.00 C547.83,627.50 547.94,636.17 548.00,640.00 C548.06,643.83 548.12,645.83 548.15,648.00 C548.18,650.17 548.11,651.23 548.20,653.00 C548.29,654.77 548.68,656.68 548.70,658.60 C548.72,660.52 548.15,662.40 548.30,664.50 C548.45,666.60 549.18,669.10 549.60,671.20 C550.02,673.30 550.38,675.30 550.80,677.10 C551.22,678.90 551.67,680.50 552.10,682.00 C552.53,683.50 553.07,684.80 553.40,686.10 C553.73,687.40 554.05,688.85 554.10,689.80 C554.15,690.75 553.95,691.13 553.70,691.80 C553.45,692.47 553.05,693.13 552.60,693.80 C552.15,694.47 551.52,695.17 551.00,695.80 C550.48,696.43 549.95,697.00 549.50,697.60 C549.05,698.20 548.57,698.95 548.30,699.40 C548.03,699.85 547.97,700.15 547.90,700.30 L547.30,700.30 C547.23,700.15 547.17,699.85 546.90,699.40 C546.63,698.95 546.15,698.20 545.70,697.60 C545.25,697.00 544.72,696.43 544.20,695.80 C543.68,695.17 543.05,694.47 542.60,693.80 C542.15,693.13 541.75,692.47 541.50,691.80 C541.25,691.13 541.05,690.75 541.10,689.80 C541.15,688.85 541.47,687.40 541.80,686.10 C542.13,684.80 542.67,683.50 543.10,682.00 C543.53,680.50 543.98,678.90 544.40,677.10 C544.82,675.30 545.18,673.30 545.60,671.20 C546.02,669.10 546.75,666.60 546.90,664.50 C547.05,662.40 546.48,660.52 546.50,658.60 C546.52,656.68 546.91,654.77 547.00,653.00 C547.09,651.23 547.02,650.17 547.05,648.00 C547.08,645.83 547.14,643.83 547.20,640.00 C547.26,636.17 547.37,627.50 547.40,625.00 Z" fill="#8a6e96" stroke="#3f3646" stroke-width="0.85" stroke-linejoin="round"/>
<line x1="543.30" y1="682.00" x2="551.90" y2="682.00" stroke="#4a1d5a" stroke-width="1.8"/>
<line x1="568.60" y1="601.20" x2="568.60" y2="638.00" stroke="#706c76" stroke-width="1.05"/>
<line x1="568.60" y1="701.00" x2="568.60" y2="708.70" stroke="#4a4550" stroke-width="1.1"/>
<path d="M568.80,635.00 C568.83,636.67 568.92,641.68 569.00,645.00 C569.08,648.32 569.17,652.07 569.30,654.90 C569.43,657.73 569.62,659.78 569.80,662.00 C569.98,664.22 570.35,666.05 570.40,668.20 C570.45,670.35 570.03,672.92 570.10,674.90 C570.17,676.88 570.37,678.62 570.80,680.10 C571.23,681.58 572.13,682.68 572.70,683.80 C573.27,684.92 573.83,685.80 574.20,686.80 C574.57,687.80 574.85,688.93 574.90,689.80 C574.95,690.67 574.77,691.27 574.50,692.00 C574.23,692.73 573.73,693.45 573.30,694.20 C572.87,694.95 572.35,695.73 571.90,696.50 C571.45,697.27 571.02,698.08 570.60,698.80 C570.18,699.52 569.68,700.27 569.40,700.80 C569.12,701.33 568.98,701.80 568.90,702.00 L568.30,702.00 C568.22,701.80 568.08,701.33 567.80,700.80 C567.52,700.27 567.02,699.52 566.60,698.80 C566.18,698.08 565.75,697.27 565.30,696.50 C564.85,695.73 564.33,694.95 563.90,694.20 C563.47,693.45 562.97,692.73 562.70,692.00 C562.43,691.27 562.25,690.67 562.30,689.80 C562.35,688.93 562.63,687.80 563.00,686.80 C563.37,685.80 563.93,684.92 564.50,683.80 C565.07,682.68 565.97,681.58 566.40,680.10 C566.83,678.62 567.03,676.88 567.10,674.90 C567.17,672.92 566.75,670.35 566.80,668.20 C566.85,666.05 567.22,664.22 567.40,662.00 C567.58,659.78 567.77,657.73 567.90,654.90 C568.03,652.07 568.12,648.32 568.20,645.00 C568.28,641.68 568.37,636.67 568.40,635.00 Z" fill="#8f8ac0" stroke="#3e3d5a" stroke-width="0.85" stroke-linejoin="round"/>
<line x1="563.20" y1="686.80" x2="574.00" y2="686.80" stroke="#3a44a0" stroke-width="1.8"/>
<path d="M547.70,557.50 V549.10 H568.50 V592.50" fill="none" stroke="#878787" stroke-width="1.2"/>
<path d="M554.65,544.00 L554.65,541.80 M554.65,544.00 L556.74,543.32 M554.65,544.00 L555.94,545.78 M554.65,544.00 L553.36,545.78 M554.65,544.00 L552.56,543.32" stroke="#333333" stroke-width="1.3" stroke-linecap="round" fill="none"/>
<path d="M561.55,544.00 L561.55,541.80 M561.55,544.00 L563.64,543.32 M561.55,544.00 L562.84,545.78 M561.55,544.00 L560.26,545.78 M561.55,544.00 L559.46,543.32" stroke="#333333" stroke-width="1.3" stroke-linecap="round" fill="none"/>
<text transform="translate(313.90,639.60) rotate(-90)" x="0" y="0" font-size="12" text-anchor="middle" fill="#3a3a3a" textLength="150" lengthAdjust="spacingAndGlyphs">Average plaque size (mm<tspan baseline-shift="4.4" font-size="7.3">2</tspan>)</text>
<text x="473.90" y="749.30" font-size="12" text-anchor="middle" fill="#3a3a3a" font-weight="normal" textLength="115" lengthAdjust="spacingAndGlyphs">Plaque size quartiles</text>
<rect x="598.5" y="564.6" width="10.6" height="10.6" fill="#8a6e96" stroke="#5a4a60" stroke-width="0.9"/>
<rect x="598.5" y="581.6" width="10.6" height="10.6" fill="#8f8ac0" stroke="#55536e" stroke-width="0.9"/>
<text x="616.40" y="573.40" font-size="12" text-anchor="start" fill="#3a3a3a" font-weight="normal" textLength="50.6" lengthAdjust="spacingAndGlyphs">0 µg ml<tspan baseline-shift="4.4" font-size="7.3">−1</tspan></text>
<text x="616.40" y="590.40" font-size="12" text-anchor="start" fill="#3a3a3a" font-weight="normal" textLength="64.4" lengthAdjust="spacingAndGlyphs">1.25 µg ml<tspan baseline-shift="4.4" font-size="7.3">−1</tspan></text>
<text x="88.30" y="789.00" font-size="17.5" text-anchor="start" fill="#151515" font-weight="bold" stroke="#151515" stroke-width="0.55">g</text>
<line x1="165.60" y1="796.40" x2="165.60" y2="957.40" stroke="#878787" stroke-width="1.2"/>
<line x1="160.60" y1="797.00" x2="165.60" y2="797.00" stroke="#878787" stroke-width="1.2"/>
<text x="154.90" y="800.80" font-size="10.8" text-anchor="end" fill="#3a3a3a" font-weight="normal">250</text>
<line x1="160.60" y1="829.10" x2="165.60" y2="829.10" stroke="#878787" stroke-width="1.2"/>
<text x="154.90" y="832.90" font-size="10.8" text-anchor="end" fill="#3a3a3a" font-weight="normal">200</text>
<line x1="160.60" y1="861.30" x2="165.60" y2="861.30" stroke="#878787" stroke-width="1.2"/>
<text x="154.90" y="865.10" font-size="10.8" text-anchor="end" fill="#3a3a3a" font-weight="normal">150</text>
<line x1="160.60" y1="893.40" x2="165.60" y2="893.40" stroke="#878787" stroke-width="1.2"/>
<text x="154.90" y="897.20" font-size="10.8" text-anchor="end" fill="#3a3a3a" font-weight="normal">100</text>
<line x1="160.60" y1="925.30" x2="165.60" y2="925.30" stroke="#878787" stroke-width="1.2"/>
<text x="154.90" y="929.10" font-size="10.8" text-anchor="end" fill="#3a3a3a" font-weight="normal">50</text>
<line x1="160.60" y1="957.40" x2="165.60" y2="957.40" stroke="#878787" stroke-width="1.2"/>
<text x="154.90" y="961.20" font-size="10.8" text-anchor="end" fill="#3a3a3a" font-weight="normal">0</text>
<line x1="192.80" y1="869.10" x2="192.80" y2="894.60" stroke="#737373" stroke-width="1.2"/>
<line x1="192.80" y1="917.50" x2="192.80" y2="938.40" stroke="#737373" stroke-width="1.2"/>
<line x1="186.30" y1="869.10" x2="199.30" y2="869.10" stroke="#737373" stroke-width="1.2"/>
<line x1="186.30" y1="938.40" x2="199.30" y2="938.40" stroke="#737373" stroke-width="1.2"/>
<rect x="179.15" y="894.60" width="27.30" height="22.90" fill="#8a7193" stroke="#4b3a52" stroke-width="1.1"/>
<line x1="179.15" y1="908.20" x2="206.45" y2="908.20" stroke="#45354d" stroke-width="1.5"/>
<line x1="232.90" y1="884.50" x2="232.90" y2="891.00" stroke="#737373" stroke-width="1.2"/>
<line x1="232.90" y1="915.30" x2="232.90" y2="937.20" stroke="#737373" stroke-width="1.2"/>
<line x1="226.40" y1="884.50" x2="239.40" y2="884.50" stroke="#737373" stroke-width="1.2"/>
<line x1="226.40" y1="937.20" x2="239.40" y2="937.20" stroke="#737373" stroke-width="1.2"/>
<rect x="219.25" y="891.00" width="27.30" height="24.30" fill="#908cb7" stroke="#4a4766" stroke-width="1.1"/>
<line x1="219.25" y1="901.50" x2="246.55" y2="901.50" stroke="#4a4766" stroke-width="1.5"/>
<line x1="273.10" y1="853.30" x2="273.10" y2="866.40" stroke="#737373" stroke-width="1.2"/>
<line x1="273.10" y1="921.20" x2="273.10" y2="947.90" stroke="#737373" stroke-width="1.2"/>
<line x1="266.60" y1="853.30" x2="279.60" y2="853.30" stroke="#737373" stroke-width="1.2"/>
<line x1="266.60" y1="947.90" x2="279.60" y2="947.90" stroke="#737373" stroke-width="1.2"/>
<rect x="259.55" y="866.40" width="27.10" height="54.80" fill="#92adbb" stroke="#4a5660" stroke-width="1.1"/>
<line x1="259.55" y1="898.00" x2="286.65" y2="898.00" stroke="#4a5660" stroke-width="1.5"/>
<ellipse cx="192.6" cy="828.7" rx="3.3" ry="2.7" fill="#7e5e8e"/>
<ellipse cx="192.6" cy="848.4" rx="3.3" ry="2.7" fill="#7e5e8e"/>
<g clip-path="url(#gclip)">
<ellipse cx="192.6" cy="952.4" rx="3.3" ry="2.7" fill="#7e5e8e"/>
<ellipse cx="192.6" cy="957.0" rx="3.3" ry="2.7" fill="#7e5e8e"/>
</g>
<line x1="161.40" y1="957.40" x2="301.10" y2="957.40" stroke="#878787" stroke-width="1.2"/>
<line x1="192.60" y1="957.40" x2="192.60" y2="962.60" stroke="#878787" stroke-width="1.2"/>
<text x="192.60" y="975.60" font-size="10.5" text-anchor="middle" fill="#3a3a3a" font-weight="normal" textLength="20.09" lengthAdjust="spacingAndGlyphs">Null</text>
<line x1="232.80" y1="957.40" x2="232.80" y2="962.60" stroke="#878787" stroke-width="1.2"/>
<text x="232.80" y="975.60" font-size="10.5" text-anchor="middle" fill="#3a3a3a" font-weight="normal">2N3R</text>
<line x1="273.20" y1="957.40" x2="273.20" y2="962.60" stroke="#878787" stroke-width="1.2"/>
<text x="273.20" y="975.60" font-size="10.5" text-anchor="middle" fill="#3a3a3a" font-weight="normal">2N4R</text>
<text transform="translate(128.40,877.20) rotate(-90)" x="0" y="0" font-size="12" text-anchor="middle" fill="#3a3a3a" textLength="74" lengthAdjust="spacingAndGlyphs">Plaque count</text>
<text x="232.70" y="993.50" font-size="12" text-anchor="middle" fill="#3a3a3a" font-weight="normal" textLength="159.4" lengthAdjust="spacingAndGlyphs">Tau isoform &amp; concentration</text>
<text x="233.00" y="1006.50" font-size="12" text-anchor="middle" fill="#3a3a3a" font-weight="normal" textLength="73" lengthAdjust="spacingAndGlyphs">(1.25 µg ml<tspan baseline-shift="4.4" font-size="7.3">−1</tspan>)</text>
<text x="358.30" y="789.00" font-size="17.5" text-anchor="start" fill="#151515" font-weight="bold" stroke="#151515" stroke-width="0.55">h</text>
<line x1="417.50" y1="796.40" x2="417.50" y2="957.50" stroke="#878787" stroke-width="1.2"/>
<line x1="412.50" y1="797.00" x2="417.50" y2="797.00" stroke="#878787" stroke-width="1.2"/>
<text x="407.80" y="800.80" font-size="10.8" text-anchor="end" fill="#3a3a3a" font-weight="normal" textLength="28.93" lengthAdjust="spacingAndGlyphs">2,000</text>
<line x1="412.50" y1="837.20" x2="417.50" y2="837.20" stroke="#878787" stroke-width="1.2"/>
<text x="407.80" y="841.00" font-size="10.8" text-anchor="end" fill="#3a3a3a" font-weight="normal" textLength="28.93" lengthAdjust="spacingAndGlyphs">1,500</text>
<line x1="412.50" y1="877.30" x2="417.50" y2="877.30" stroke="#878787" stroke-width="1.2"/>
<text x="407.80" y="881.10" font-size="10.8" text-anchor="end" fill="#3a3a3a" font-weight="normal" textLength="28.93" lengthAdjust="spacingAndGlyphs">1,000</text>
<line x1="412.50" y1="917.40" x2="417.50" y2="917.40" stroke="#878787" stroke-width="1.2"/>
<text x="407.80" y="921.20" font-size="10.8" text-anchor="end" fill="#3a3a3a" font-weight="normal">500</text>
<line x1="412.50" y1="957.50" x2="417.50" y2="957.50" stroke="#878787" stroke-width="1.2"/>
<text x="407.80" y="961.30" font-size="10.8" text-anchor="end" fill="#3a3a3a" font-weight="normal">0</text>
<line x1="443.50" y1="840.40" x2="443.50" y2="885.50" stroke="#737373" stroke-width="1.2"/>
<line x1="443.50" y1="921.90" x2="443.50" y2="950.80" stroke="#737373" stroke-width="1.2"/>
<line x1="437.00" y1="840.40" x2="450.00" y2="840.40" stroke="#737373" stroke-width="1.2"/>
<line x1="437.00" y1="950.80" x2="450.00" y2="950.80" stroke="#737373" stroke-width="1.2"/>
<rect x="430.40" y="885.50" width="26.20" height="36.40" fill="#8a7193" stroke="#4b3a52" stroke-width="1.1"/>
<line x1="430.40" y1="904.40" x2="456.60" y2="904.40" stroke="#45354d" stroke-width="1.5"/>
<line x1="482.75" y1="876.90" x2="482.75" y2="878.00" stroke="#737373" stroke-width="1.2"/>
<line x1="482.75" y1="924.20" x2="482.75" y2="933.30" stroke="#737373" stroke-width="1.2"/>
<line x1="476.25" y1="876.90" x2="489.25" y2="876.90" stroke="#737373" stroke-width="1.2"/>
<line x1="476.25" y1="933.30" x2="489.25" y2="933.30" stroke="#737373" stroke-width="1.2"/>
<rect x="469.60" y="878.00" width="26.30" height="46.20" fill="#908cb7" stroke="#4a4766" stroke-width="1.1"/>
<line x1="469.60" y1="906.30" x2="495.90" y2="906.30" stroke="#4a4766" stroke-width="1.5"/>
<line x1="521.60" y1="823.40" x2="521.60" y2="857.30" stroke="#737373" stroke-width="1.2"/>
<line x1="521.60" y1="910.60" x2="521.60" y2="945.50" stroke="#737373" stroke-width="1.2"/>
<line x1="515.10" y1="823.40" x2="528.10" y2="823.40" stroke="#737373" stroke-width="1.2"/>
<line x1="515.10" y1="945.50" x2="528.10" y2="945.50" stroke="#737373" stroke-width="1.2"/>
<rect x="508.50" y="857.30" width="26.20" height="53.30" fill="#92adbb" stroke="#4a5660" stroke-width="1.1"/>
<line x1="508.50" y1="886.50" x2="534.70" y2="886.50" stroke="#4a5660" stroke-width="1.5"/>
<line x1="413.10" y1="957.50" x2="548.60" y2="957.50" stroke="#878787" stroke-width="1.2"/>
<line x1="443.50" y1="957.50" x2="443.50" y2="962.70" stroke="#878787" stroke-width="1.2"/>
<text x="443.50" y="975.60" font-size="10.5" text-anchor="middle" fill="#3a3a3a" font-weight="normal" textLength="20.09" lengthAdjust="spacingAndGlyphs">Null</text>
<line x1="482.70" y1="957.50" x2="482.70" y2="962.70" stroke="#878787" stroke-width="1.2"/>
<text x="482.70" y="975.60" font-size="10.5" text-anchor="middle" fill="#3a3a3a" font-weight="normal">2N3R</text>
<line x1="521.60" y1="957.50" x2="521.60" y2="962.70" stroke="#878787" stroke-width="1.2"/>
<text x="521.60" y="975.60" font-size="10.5" text-anchor="middle" fill="#3a3a3a" font-weight="normal">2N4R</text>
<text transform="translate(368.40,878.00) rotate(-90)" x="0" y="0" font-size="12" text-anchor="middle" fill="#3a3a3a" textLength="106" lengthAdjust="spacingAndGlyphs">Infected cell count</text>
<text x="482.60" y="993.50" font-size="12" text-anchor="middle" fill="#3a3a3a" font-weight="normal" textLength="159.4" lengthAdjust="spacingAndGlyphs">Tau isoform &amp; concentration</text>
<text x="482.70" y="1006.50" font-size="12" text-anchor="middle" fill="#3a3a3a" font-weight="normal" textLength="74" lengthAdjust="spacingAndGlyphs">(1.25 µg ml<tspan baseline-shift="4.4" font-size="7.3">−1</tspan>)</text>
</svg></body></html>
